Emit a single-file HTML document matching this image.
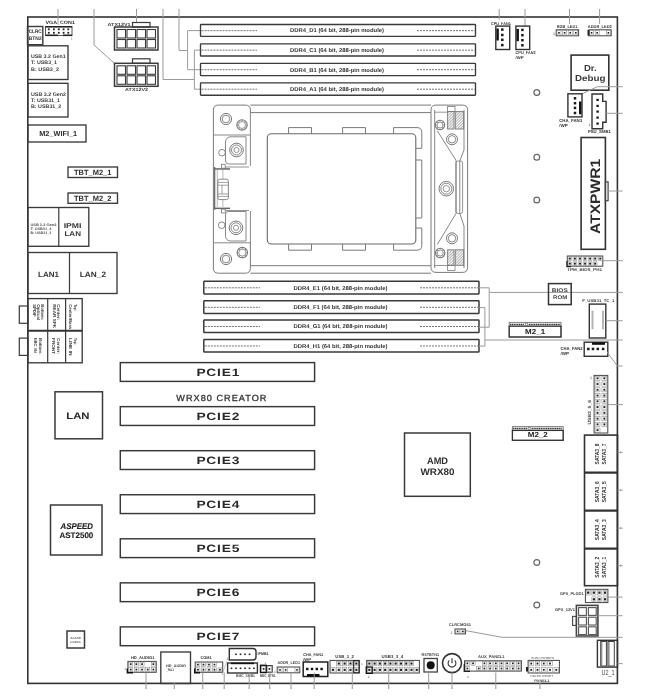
<!DOCTYPE html>
<html><head><meta charset="utf-8"><style>
html,body{margin:0;padding:0;background:#fff;}
svg{display:block;filter:blur(0.3px);text-rendering:geometricPrecision;}
</style></head><body>
<svg width="648" height="700" viewBox="0 0 648 700" font-family="Liberation Sans, sans-serif">
<defs><pattern id="hatch" width="2" height="2" patternUnits="userSpaceOnUse" patternTransform="rotate(45)"><line x1="0" y1="0" x2="0" y2="2" stroke="#666" stroke-width="1"/></pattern></defs>
<rect width="648" height="700" fill="#fff"/>
<rect x="27.8" y="17" width="589.6" height="666.4" fill="none" stroke="#333" stroke-width="1.6" rx="0" />
<line x1="58" y1="9" x2="58" y2="24" stroke="#9a9a9a" stroke-width="1" />
<line x1="94" y1="9" x2="94" y2="45" stroke="#9a9a9a" stroke-width="1" />
<line x1="94" y1="45" x2="114.5" y2="63.3" stroke="#9a9a9a" stroke-width="1" />
<line x1="136.5" y1="9" x2="136.5" y2="23" stroke="#9a9a9a" stroke-width="1" />
<line x1="163" y1="9" x2="163" y2="79.5" stroke="#9a9a9a" stroke-width="1" />
<line x1="163" y1="79.5" x2="194.4" y2="79.5" stroke="#9a9a9a" stroke-width="1" />
<line x1="179" y1="9" x2="179" y2="50.5" stroke="#9a9a9a" stroke-width="1" />
<line x1="179" y1="50.5" x2="187.6" y2="50.5" stroke="#9a9a9a" stroke-width="1" />
<line x1="187.6" y1="30.6" x2="187.6" y2="69.7" stroke="#9a9a9a" stroke-width="1" />
<line x1="187.6" y1="30.6" x2="200" y2="30.6" stroke="#9a9a9a" stroke-width="1" />
<line x1="187.6" y1="69.7" x2="200" y2="69.7" stroke="#9a9a9a" stroke-width="1" />
<line x1="194.4" y1="50.1" x2="194.4" y2="89.2" stroke="#9a9a9a" stroke-width="1" />
<line x1="194.4" y1="50.1" x2="200" y2="50.1" stroke="#9a9a9a" stroke-width="1" />
<line x1="194.4" y1="89.2" x2="200" y2="89.2" stroke="#9a9a9a" stroke-width="1" />
<rect x="27.5" y="26.5" width="15.299999999999997" height="18.200000000000003" fill="none" stroke="#3a3a3a" stroke-width="1.4" rx="0" />
<text x="35.2" y="33.3" font-size="5.2" font-weight="bold" fill="#2e2e2e" font-family="Liberation Sans" text-anchor="middle" textLength="13" lengthAdjust="spacingAndGlyphs">CLRC</text>
<text x="35.2" y="40" font-size="5.2" font-weight="bold" fill="#2e2e2e" font-family="Liberation Sans" text-anchor="middle" textLength="13" lengthAdjust="spacingAndGlyphs">BTN2</text>
<text x="45.4" y="23.5" font-size="4.8" font-weight="bold" fill="#2e2e2e" font-family="Liberation Sans" text-anchor="start" textLength="29.5" lengthAdjust="spacingAndGlyphs">VGA_CON1</text>
<rect x="45.5" y="26.5" width="26.5" height="9.0" fill="none" stroke="#555" stroke-width="1" rx="0" />
<line x1="45.5" y1="26.8" x2="72" y2="26.8" stroke="#222" stroke-width="1.6" />
<line x1="45.5" y1="35.3" x2="58" y2="35.3" stroke="#222" stroke-width="1.6" />
<line x1="63" y1="35.3" x2="72" y2="35.3" stroke="#222" stroke-width="1.6" />
<rect x="47.9" y="28.400000000000002" width="1.8" height="1.8" fill="#222" stroke="#3a3a3a" stroke-width="0" rx="0" />
<rect x="47.9" y="31.9" width="1.8" height="1.8" fill="#222" stroke="#3a3a3a" stroke-width="0" rx="0" />
<rect x="53.0" y="28.400000000000002" width="1.8" height="1.8" fill="#222" stroke="#3a3a3a" stroke-width="0" rx="0" />
<rect x="53.0" y="31.9" width="1.8" height="1.8" fill="#222" stroke="#3a3a3a" stroke-width="0" rx="0" />
<rect x="57.9" y="28.400000000000002" width="1.8" height="1.8" fill="#222" stroke="#3a3a3a" stroke-width="0" rx="0" />
<rect x="57.9" y="31.9" width="1.8" height="1.8" fill="#222" stroke="#3a3a3a" stroke-width="0" rx="0" />
<rect x="62.7" y="28.400000000000002" width="1.8" height="1.8" fill="#222" stroke="#3a3a3a" stroke-width="0" rx="0" />
<rect x="62.7" y="31.9" width="1.8" height="1.8" fill="#222" stroke="#3a3a3a" stroke-width="0" rx="0" />
<rect x="67.39999999999999" y="28.400000000000002" width="1.8" height="1.8" fill="#222" stroke="#3a3a3a" stroke-width="0" rx="0" />
<rect x="67.39999999999999" y="31.9" width="1.8" height="1.8" fill="#222" stroke="#3a3a3a" stroke-width="0" rx="0" />
<text x="70.8" y="40" font-size="3.5" font-weight="normal" fill="#888" font-family="Liberation Sans" text-anchor="start">1</text>
<rect x="27.8" y="45.8" width="40.2" height="33.7" fill="none" stroke="#3a3a3a" stroke-width="1.35" rx="0" />
<text x="31" y="58" font-size="5.2" font-weight="bold" fill="#3a3a3a" font-family="Liberation Sans" text-anchor="start" textLength="34.6" lengthAdjust="spacingAndGlyphs">USB 3.2 Gen1</text>
<text x="31" y="64.3" font-size="5.2" font-weight="bold" fill="#3a3a3a" font-family="Liberation Sans" text-anchor="start" textLength="26" lengthAdjust="spacingAndGlyphs">T: USB3_1</text>
<text x="31" y="70.6" font-size="5.2" font-weight="bold" fill="#3a3a3a" font-family="Liberation Sans" text-anchor="start" textLength="28" lengthAdjust="spacingAndGlyphs">B: USB3_2</text>
<rect x="27.8" y="83.3" width="40.2" height="33.7" fill="none" stroke="#3a3a3a" stroke-width="1.35" rx="0" />
<text x="31" y="95.7" font-size="5.2" font-weight="bold" fill="#3a3a3a" font-family="Liberation Sans" text-anchor="start" textLength="35" lengthAdjust="spacingAndGlyphs">USB 3.2 Gen2</text>
<text x="31" y="102" font-size="5.2" font-weight="bold" fill="#3a3a3a" font-family="Liberation Sans" text-anchor="start" textLength="29" lengthAdjust="spacingAndGlyphs">T: USB31_1</text>
<text x="31" y="108.2" font-size="5.2" font-weight="bold" fill="#3a3a3a" font-family="Liberation Sans" text-anchor="start" textLength="30.3" lengthAdjust="spacingAndGlyphs">B: USB31_2</text>
<rect x="27.8" y="125" width="58.2" height="17" fill="none" stroke="#3a3a3a" stroke-width="1.35" rx="0" />
<text x="58.2" y="136.4" font-size="7.2" font-weight="bold" fill="#2e2e2e" font-family="Liberation Sans" text-anchor="middle" textLength="38" lengthAdjust="spacingAndGlyphs">M2_WIFI_1</text>
<rect x="68" y="167" width="49.5" height="10.5" fill="none" stroke="#3a3a3a" stroke-width="1.35" rx="0" />
<text x="92.7" y="175.1" font-size="7.6" font-weight="bold" fill="#2e2e2e" font-family="Liberation Sans" text-anchor="middle" textLength="37.4" lengthAdjust="spacingAndGlyphs">TBT_M2_1</text>
<rect x="68" y="193" width="49.5" height="10.300000000000011" fill="none" stroke="#3a3a3a" stroke-width="1.35" rx="0" />
<text x="92.7" y="200.8" font-size="7.6" font-weight="bold" fill="#2e2e2e" font-family="Liberation Sans" text-anchor="middle" textLength="37.4" lengthAdjust="spacingAndGlyphs">TBT_M2_2</text>
<rect x="27.8" y="207.5" width="61.0" height="38.80000000000001" fill="none" stroke="#3a3a3a" stroke-width="1.35" rx="0" />
<line x1="58.8" y1="207.5" x2="58.8" y2="246.3" stroke="#3a3a3a" stroke-width="1.2" />
<text x="30.4" y="225.6" font-size="3.6" font-weight="bold" fill="#555" font-family="Liberation Sans" text-anchor="start" textLength="26" lengthAdjust="spacingAndGlyphs">USB 3.2 Gen2</text>
<text x="30.4" y="229.9" font-size="3.6" font-weight="bold" fill="#555" font-family="Liberation Sans" text-anchor="start" textLength="21" lengthAdjust="spacingAndGlyphs">T: USB31_4</text>
<text x="30.4" y="234.1" font-size="3.6" font-weight="bold" fill="#555" font-family="Liberation Sans" text-anchor="start" textLength="21" lengthAdjust="spacingAndGlyphs">B: USB31_3</text>
<text x="72.5" y="228.1" font-size="7" font-weight="bold" fill="#333" font-family="Liberation Sans" text-anchor="middle" textLength="17.7" lengthAdjust="spacingAndGlyphs">IPMI</text>
<text x="72.7" y="235.5" font-size="7" font-weight="bold" fill="#333" font-family="Liberation Sans" text-anchor="middle" textLength="16.5" lengthAdjust="spacingAndGlyphs">LAN</text>
<rect x="27.8" y="252.5" width="89.2" height="41.0" fill="none" stroke="#3a3a3a" stroke-width="1.35" rx="0" />
<line x1="69.5" y1="252.5" x2="69.5" y2="293.5" stroke="#3a3a3a" stroke-width="1.2" />
<text x="48.5" y="277.3" font-size="7.8" font-weight="bold" fill="#333" font-family="Liberation Sans" text-anchor="middle" textLength="21" lengthAdjust="spacingAndGlyphs">LAN1</text>
<text x="92.9" y="277.3" font-size="7.8" font-weight="bold" fill="#333" font-family="Liberation Sans" text-anchor="middle" textLength="26.2" lengthAdjust="spacingAndGlyphs">LAN_2</text>
<rect x="27.8" y="298.6" width="54.400000000000006" height="64.19999999999999" fill="none" stroke="#3a3a3a" stroke-width="1.35" rx="0" />
<line x1="27.8" y1="330.7" x2="82.2" y2="330.7" stroke="#333" stroke-width="2" />
<line x1="47.7" y1="298.6" x2="47.7" y2="362.8" stroke="#3a3a3a" stroke-width="1.2" />
<line x1="65.6" y1="298.6" x2="65.6" y2="362.8" stroke="#3a3a3a" stroke-width="1.2" />
<rect x="19.3" y="306" width="8.5" height="17.30000000000001" fill="none" stroke="#3a3a3a" stroke-width="1.2" rx="0" />
<rect x="19.3" y="338.1" width="8.5" height="17.299999999999955" fill="none" stroke="#3a3a3a" stroke-width="1.2" rx="0" />
<rect x="114.5" y="27" width="43.5" height="23" fill="none" stroke="#3a3a3a" stroke-width="1.5" rx="0" />
<rect x="132.5" y="22.5" width="17.5" height="4.5" fill="none" stroke="#3a3a3a" stroke-width="1.2" rx="0" />
<rect x="117.0" y="29.5" width="8.5" height="8.5" fill="none" stroke="#3a3a3a" stroke-width="1.1" rx="0" />
<rect x="117.0" y="39.5" width="8.5" height="8.5" fill="none" stroke="#3a3a3a" stroke-width="1.1" rx="0" />
<rect x="127.0" y="29.5" width="8.5" height="8.5" fill="none" stroke="#3a3a3a" stroke-width="1.1" rx="0" />
<rect x="127.0" y="39.5" width="8.5" height="8.5" fill="none" stroke="#3a3a3a" stroke-width="1.1" rx="0" />
<rect x="137.0" y="29.5" width="8.5" height="8.5" fill="none" stroke="#3a3a3a" stroke-width="1.1" rx="0" />
<rect x="137.0" y="39.5" width="8.5" height="8.5" fill="none" stroke="#3a3a3a" stroke-width="1.1" rx="0" />
<rect x="147.0" y="29.5" width="8.5" height="8.5" fill="none" stroke="#3a3a3a" stroke-width="1.1" rx="0" />
<rect x="147.0" y="39.5" width="8.5" height="8.5" fill="none" stroke="#3a3a3a" stroke-width="1.1" rx="0" />
<rect x="114.5" y="63.3" width="43.5" height="23.0" fill="none" stroke="#3a3a3a" stroke-width="1.5" rx="0" />
<rect x="132.5" y="58.8" width="17.5" height="4.5" fill="none" stroke="#3a3a3a" stroke-width="1.2" rx="0" />
<rect x="117.0" y="65.8" width="8.5" height="8.5" fill="none" stroke="#3a3a3a" stroke-width="1.1" rx="0" />
<rect x="117.0" y="75.8" width="8.5" height="8.5" fill="none" stroke="#3a3a3a" stroke-width="1.1" rx="0" />
<rect x="127.0" y="65.8" width="8.5" height="8.5" fill="none" stroke="#3a3a3a" stroke-width="1.1" rx="0" />
<rect x="127.0" y="75.8" width="8.5" height="8.5" fill="none" stroke="#3a3a3a" stroke-width="1.1" rx="0" />
<rect x="137.0" y="65.8" width="8.5" height="8.5" fill="none" stroke="#3a3a3a" stroke-width="1.1" rx="0" />
<rect x="137.0" y="75.8" width="8.5" height="8.5" fill="none" stroke="#3a3a3a" stroke-width="1.1" rx="0" />
<rect x="147.0" y="65.8" width="8.5" height="8.5" fill="none" stroke="#3a3a3a" stroke-width="1.1" rx="0" />
<rect x="147.0" y="75.8" width="8.5" height="8.5" fill="none" stroke="#3a3a3a" stroke-width="1.1" rx="0" />
<text x="107.6" y="25.7" font-size="4.5" font-weight="bold" fill="#444" font-family="Liberation Sans" text-anchor="start" textLength="23" lengthAdjust="spacingAndGlyphs">ATX12V1</text>
<text x="125.1" y="91" font-size="4.5" font-weight="bold" fill="#444" font-family="Liberation Sans" text-anchor="start" textLength="23" lengthAdjust="spacingAndGlyphs">ATX12V2</text>
<rect x="200.5" y="24.5" width="275.0" height="11.899999999999999" fill="none" stroke="#3a3a3a" stroke-width="1.35" rx="0.6" />
<line x1="201.5" y1="30.65" x2="257" y2="30.65" stroke="#5a5a5a" stroke-width="0.85" stroke-dasharray="2,1"/>
<line x1="417" y1="30.65" x2="474.5" y2="30.65" stroke="#5a5a5a" stroke-width="0.85" stroke-dasharray="2,1"/>
<text x="290" y="32.45" font-size="5.6" font-weight="bold" fill="#333" font-family="Liberation Sans" text-anchor="start" textLength="94" lengthAdjust="spacingAndGlyphs">DDR4_D1 (64 bit, 288-pin module)</text>
<rect x="200.5" y="43.9" width="275.0" height="12.100000000000001" fill="none" stroke="#3a3a3a" stroke-width="1.35" rx="0.6" />
<line x1="201.5" y1="50.15" x2="257" y2="50.15" stroke="#5a5a5a" stroke-width="0.85" stroke-dasharray="2,1"/>
<line x1="417" y1="50.15" x2="474.5" y2="50.15" stroke="#5a5a5a" stroke-width="0.85" stroke-dasharray="2,1"/>
<text x="290" y="51.95" font-size="5.6" font-weight="bold" fill="#333" font-family="Liberation Sans" text-anchor="start" textLength="94" lengthAdjust="spacingAndGlyphs">DDR4_C1 (64 bit, 288-pin module)</text>
<rect x="200.5" y="63.4" width="275.0" height="12.199999999999996" fill="none" stroke="#3a3a3a" stroke-width="1.35" rx="0.6" />
<line x1="201.5" y1="69.7" x2="257" y2="69.7" stroke="#5a5a5a" stroke-width="0.85" stroke-dasharray="2,1"/>
<line x1="417" y1="69.7" x2="474.5" y2="69.7" stroke="#5a5a5a" stroke-width="0.85" stroke-dasharray="2,1"/>
<text x="290" y="71.5" font-size="5.6" font-weight="bold" fill="#333" font-family="Liberation Sans" text-anchor="start" textLength="94" lengthAdjust="spacingAndGlyphs">DDR4_B1 (64 bit, 288-pin module)</text>
<rect x="200.5" y="82.8" width="275.0" height="12.400000000000006" fill="none" stroke="#3a3a3a" stroke-width="1.35" rx="0.6" />
<line x1="201.5" y1="89.2" x2="257" y2="89.2" stroke="#5a5a5a" stroke-width="0.85" stroke-dasharray="2,1"/>
<line x1="417" y1="89.2" x2="474.5" y2="89.2" stroke="#5a5a5a" stroke-width="0.85" stroke-dasharray="2,1"/>
<text x="290" y="91.0" font-size="5.6" font-weight="bold" fill="#333" font-family="Liberation Sans" text-anchor="start" textLength="94" lengthAdjust="spacingAndGlyphs">DDR4_A1 (64 bit, 288-pin module)</text>
<rect x="203.8" y="281.3" width="275.2" height="12.600000000000023" fill="none" stroke="#3a3a3a" stroke-width="1.5" rx="0.6" />
<line x1="204.8" y1="287.8" x2="260" y2="287.8" stroke="#5a5a5a" stroke-width="0.85" stroke-dasharray="2,1"/>
<line x1="420" y1="287.8" x2="478" y2="287.8" stroke="#5a5a5a" stroke-width="0.85" stroke-dasharray="2,1"/>
<text x="293.5" y="289.6" font-size="5.6" font-weight="bold" fill="#333" font-family="Liberation Sans" text-anchor="start" textLength="94" lengthAdjust="spacingAndGlyphs">DDR4_E1 (64 bit, 288-pin module)</text>
<rect x="203.8" y="300.8" width="275.2" height="12.600000000000023" fill="none" stroke="#3a3a3a" stroke-width="1.5" rx="0.6" />
<line x1="204.8" y1="307.3" x2="260" y2="307.3" stroke="#5a5a5a" stroke-width="0.85" stroke-dasharray="2,1"/>
<line x1="420" y1="307.3" x2="478" y2="307.3" stroke="#5a5a5a" stroke-width="0.85" stroke-dasharray="2,1"/>
<text x="293.5" y="309.1" font-size="5.6" font-weight="bold" fill="#333" font-family="Liberation Sans" text-anchor="start" textLength="94" lengthAdjust="spacingAndGlyphs">DDR4_F1 (64 bit, 288-pin module)</text>
<rect x="203.8" y="320" width="275.2" height="12.600000000000023" fill="none" stroke="#3a3a3a" stroke-width="1.5" rx="0.6" />
<line x1="204.8" y1="326.5" x2="260" y2="326.5" stroke="#5a5a5a" stroke-width="0.85" stroke-dasharray="2,1"/>
<line x1="420" y1="326.5" x2="478" y2="326.5" stroke="#5a5a5a" stroke-width="0.85" stroke-dasharray="2,1"/>
<text x="293.5" y="328.3" font-size="5.6" font-weight="bold" fill="#333" font-family="Liberation Sans" text-anchor="start" textLength="94" lengthAdjust="spacingAndGlyphs">DDR4_G1 (64 bit, 288-pin module)</text>
<rect x="203.8" y="339.5" width="275.2" height="12.600000000000023" fill="none" stroke="#3a3a3a" stroke-width="1.5" rx="0.6" />
<line x1="204.8" y1="346.0" x2="260" y2="346.0" stroke="#5a5a5a" stroke-width="0.85" stroke-dasharray="2,1"/>
<line x1="420" y1="346.0" x2="478" y2="346.0" stroke="#5a5a5a" stroke-width="0.85" stroke-dasharray="2,1"/>
<text x="293.5" y="347.8" font-size="5.6" font-weight="bold" fill="#333" font-family="Liberation Sans" text-anchor="start" textLength="94" lengthAdjust="spacingAndGlyphs">DDR4_H1 (64 bit, 288-pin module)</text>
<path d="M250.4,112 L250.4,110 Q250.4,105.1 245.4,105.1 L218.4,105.1 Q213.4,105.1 213.4,110.1 L213.4,268.2 Q213.4,273.2 218.4,273.2 L245.4,273.2 Q250.4,273.2 250.4,268.2 L250.4,243" fill="none" stroke="#7a7a7a" stroke-width="1"/>
<line x1="213.4" y1="135" x2="250.4" y2="135" stroke="#7a7a7a" stroke-width="0.9" />
<line x1="213.4" y1="242.8" x2="250.4" y2="242.8" stroke="#7a7a7a" stroke-width="0.9" />
<line x1="250.4" y1="112" x2="250.4" y2="166" stroke="#7a7a7a" stroke-width="0.9" />
<line x1="250.4" y1="211" x2="250.4" y2="243" stroke="#7a7a7a" stroke-width="0.9" />
<circle cx="226" cy="119" r="5.6" fill="none" stroke="#7a7a7a" stroke-width="1"/>
<circle cx="226" cy="119" r="3.8" fill="none" stroke="#7a7a7a" stroke-width="0.9"/>
<circle cx="242" cy="125" r="5.2" fill="none" stroke="#777" stroke-width="1.1"/>
<circle cx="242" cy="125" r="3.5" fill="none" stroke="#7a7a7a" stroke-width="0.8"/>
<circle cx="246.5" cy="125.0" r="0.6" fill="#7a7a7a" stroke="#3a3a3a" stroke-width="0"/>
<circle cx="245.18198051533946" cy="128.18198051533946" r="0.6" fill="#7a7a7a" stroke="#3a3a3a" stroke-width="0"/>
<circle cx="242.0" cy="129.5" r="0.6" fill="#7a7a7a" stroke="#3a3a3a" stroke-width="0"/>
<circle cx="238.81801948466054" cy="128.18198051533946" r="0.6" fill="#7a7a7a" stroke="#3a3a3a" stroke-width="0"/>
<circle cx="237.5" cy="125.0" r="0.6" fill="#7a7a7a" stroke="#3a3a3a" stroke-width="0"/>
<circle cx="238.81801948466054" cy="121.81801948466054" r="0.6" fill="#7a7a7a" stroke="#3a3a3a" stroke-width="0"/>
<circle cx="242.0" cy="120.5" r="0.6" fill="#7a7a7a" stroke="#3a3a3a" stroke-width="0"/>
<circle cx="245.18198051533946" cy="121.81801948466054" r="0.6" fill="#7a7a7a" stroke="#3a3a3a" stroke-width="0"/>
<circle cx="226" cy="259" r="5.6" fill="none" stroke="#7a7a7a" stroke-width="1"/>
<circle cx="226" cy="259" r="3.8" fill="none" stroke="#7a7a7a" stroke-width="0.9"/>
<circle cx="242.3" cy="252.6" r="5.2" fill="none" stroke="#777" stroke-width="1.1"/>
<circle cx="242.3" cy="252.6" r="3.5" fill="none" stroke="#7a7a7a" stroke-width="0.8"/>
<circle cx="246.8" cy="252.6" r="0.6" fill="#7a7a7a" stroke="#3a3a3a" stroke-width="0"/>
<circle cx="245.48198051533947" cy="255.78198051533946" r="0.6" fill="#7a7a7a" stroke="#3a3a3a" stroke-width="0"/>
<circle cx="242.3" cy="257.1" r="0.6" fill="#7a7a7a" stroke="#3a3a3a" stroke-width="0"/>
<circle cx="239.11801948466055" cy="255.78198051533946" r="0.6" fill="#7a7a7a" stroke="#3a3a3a" stroke-width="0"/>
<circle cx="237.8" cy="252.6" r="0.6" fill="#7a7a7a" stroke="#3a3a3a" stroke-width="0"/>
<circle cx="239.11801948466055" cy="249.41801948466053" r="0.6" fill="#7a7a7a" stroke="#3a3a3a" stroke-width="0"/>
<circle cx="242.3" cy="248.1" r="0.6" fill="#7a7a7a" stroke="#3a3a3a" stroke-width="0"/>
<circle cx="245.48198051533947" cy="249.41801948466053" r="0.6" fill="#7a7a7a" stroke="#3a3a3a" stroke-width="0"/>
<path d="M230,136.8 L246,136.8 L246,164 L228,164 Q225.5,164 225.5,160 L225.5,142 Q225.5,138 230,136.8 Z" fill="none" stroke="#7a7a7a" stroke-width="0.9"/>
<path d="M230,241 L246,241 L246,211.5 L228,211.5 Q225.5,211.5 225.5,215 L225.5,236 Q225.5,240 230,241 Z" fill="none" stroke="#7a7a7a" stroke-width="0.9"/>
<circle cx="236.5" cy="150" r="6.8" fill="none" stroke="#7a7a7a" stroke-width="1"/>
<circle cx="236.5" cy="150" r="5.0" fill="none" stroke="#7a7a7a" stroke-width="0.9"/>
<circle cx="236.5" cy="150" r="2.6" fill="none" stroke="#7a7a7a" stroke-width="0.8"/>
<circle cx="236" cy="227.8" r="6.8" fill="none" stroke="#7a7a7a" stroke-width="1"/>
<circle cx="236" cy="227.8" r="5.0" fill="none" stroke="#7a7a7a" stroke-width="0.9"/>
<circle cx="236" cy="227.8" r="2.6" fill="none" stroke="#7a7a7a" stroke-width="0.8"/>
<circle cx="222" cy="152.7" r="3.3" fill="none" stroke="#7a7a7a" stroke-width="0.9"/>
<circle cx="221.7" cy="225.2" r="3.3" fill="none" stroke="#7a7a7a" stroke-width="0.9"/>
<line x1="214.7" y1="167" x2="214.7" y2="209.8" stroke="#555" stroke-width="1.1" />
<rect x="214.5" y="168.2" width="15.5" height="1.5" fill="#666" stroke="#3a3a3a" stroke-width="0" rx="0" />
<rect x="214.5" y="207.6" width="15.5" height="1.5" fill="#666" stroke="#3a3a3a" stroke-width="0" rx="0" />
<rect x="221.5" y="164.3" width="3.6999999999999886" height="3.8999999999999773" fill="none" stroke="#7a7a7a" stroke-width="0.8" rx="0" />
<rect x="221.5" y="209.1" width="3.6999999999999886" height="3.9000000000000057" fill="none" stroke="#7a7a7a" stroke-width="0.8" rx="0" />
<line x1="225.2" y1="167" x2="249" y2="167" stroke="#7a7a7a" stroke-width="0.8" />
<line x1="225.2" y1="210.5" x2="249" y2="210.5" stroke="#7a7a7a" stroke-width="0.8" />
<line x1="217.3" y1="170" x2="217.3" y2="207" stroke="#999" stroke-width="0.7" />
<line x1="222.9" y1="170" x2="222.9" y2="179" stroke="#999" stroke-width="0.7" />
<line x1="222.9" y1="199.6" x2="222.9" y2="207" stroke="#999" stroke-width="0.7" />
<rect x="217.8" y="179.2" width="10.599999999999994" height="20.400000000000006" fill="none" stroke="#7a7a7a" stroke-width="0.9" rx="2" />
<line x1="217.8" y1="182.4" x2="228.4" y2="182.4" stroke="#7a7a7a" stroke-width="0.7" />
<line x1="217.8" y1="185.2" x2="228.4" y2="185.2" stroke="#7a7a7a" stroke-width="0.7" />
<line x1="217.8" y1="194" x2="228.4" y2="194" stroke="#7a7a7a" stroke-width="0.7" />
<line x1="217.8" y1="196.4" x2="228.4" y2="196.4" stroke="#7a7a7a" stroke-width="0.7" />
<line x1="222" y1="185.2" x2="222" y2="194" stroke="#7a7a7a" stroke-width="0.7" />
<line x1="250.4" y1="105.1" x2="431" y2="105.1" stroke="#7a7a7a" stroke-width="1" />
<line x1="250.4" y1="112.6" x2="431" y2="112.6" stroke="#7a7a7a" stroke-width="1" />
<line x1="250.4" y1="265.7" x2="431" y2="265.7" stroke="#7a7a7a" stroke-width="1" />
<line x1="250.4" y1="273.2" x2="431" y2="273.2" stroke="#7a7a7a" stroke-width="1" />
<rect x="267.3" y="133.7" width="148.5" height="110.30000000000001" fill="none" stroke="#6a6a6a" stroke-width="1.1" rx="4" />
<polyline points="288.6,133.7 288.6,127.6 311.5,127.6 311.5,133.7" fill="none" stroke="#7a7a7a" stroke-width="1"/>
<polyline points="288.6,244 288.6,250.2 311.5,250.2 311.5,244" fill="none" stroke="#7a7a7a" stroke-width="1"/>
<polyline points="342.6,133.7 342.6,127.6 365.5,127.6 365.5,133.7" fill="none" stroke="#7a7a7a" stroke-width="1"/>
<polyline points="342.6,244 342.6,250.2 365.5,250.2 365.5,244" fill="none" stroke="#7a7a7a" stroke-width="1"/>
<path d="M393.6,133.7 L393.6,127.6 L417,127.6 Q421.8,127.6 421.8,132.4 L421.8,148.3 L415.8,148.3" fill="none" stroke="#7a7a7a" stroke-width="1"/>
<path d="M393.6,244 L393.6,250.2 L417,250.2 Q421.8,250.2 421.8,245.4 L421.8,228 L415.8,228" fill="none" stroke="#7a7a7a" stroke-width="1"/>
<polyline points="415.8,160 421.8,160 421.8,218 415.8,218" fill="none" stroke="#7a7a7a" stroke-width="1"/>
<path d="M431,110 Q431,105.1 436,105.1 L462.6,105.1 Q467.6,105.1 467.6,110.1 L467.6,267.4 Q467.6,272.4 462.6,272.4 L436,272.4 Q431,272.4 431,267.4 Z" fill="none" stroke="#7a7a7a" stroke-width="1"/>
<line x1="434.7" y1="110" x2="434.7" y2="268" stroke="#7a7a7a" stroke-width="0.9" />
<polyline points="437.3,130.8 456,160.4 456,213.5 437.3,244.5" fill="none" stroke="#7a7a7a" stroke-width="0.9"/>
<polyline points="464,110 464,150 459.8,161 459.8,213.5 464,226 464,268" fill="none" stroke="#7a7a7a" stroke-width="0.9"/>
<rect x="456" y="161" width="6.600000000000023" height="52.5" fill="none" stroke="#7a7a7a" stroke-width="0.8" rx="2" />
<line x1="434" y1="112.2" x2="447" y2="112.2" stroke="#7a7a7a" stroke-width="0.8" />
<line x1="434" y1="265.5" x2="447" y2="265.5" stroke="#7a7a7a" stroke-width="0.8" />
<rect x="447.6" y="106.5" width="7.399999999999977" height="5.099999999999994" fill="none" stroke="#7a7a7a" stroke-width="0.8" rx="0" />
<rect x="447.6" y="265.3" width="7.399999999999977" height="5.199999999999989" fill="none" stroke="#7a7a7a" stroke-width="0.8" rx="0" />
<circle cx="440" cy="125" r="4.7" fill="none" stroke="#777" stroke-width="1.1"/>
<circle cx="440" cy="125" r="3" fill="none" stroke="#7a7a7a" stroke-width="0.8"/>
<circle cx="444.0" cy="125.0" r="0.6" fill="#7a7a7a" stroke="#3a3a3a" stroke-width="0"/>
<circle cx="442.8284271247462" cy="127.82842712474618" r="0.6" fill="#7a7a7a" stroke="#3a3a3a" stroke-width="0"/>
<circle cx="440.0" cy="129.0" r="0.6" fill="#7a7a7a" stroke="#3a3a3a" stroke-width="0"/>
<circle cx="437.1715728752538" cy="127.82842712474618" r="0.6" fill="#7a7a7a" stroke="#3a3a3a" stroke-width="0"/>
<circle cx="436.0" cy="125.0" r="0.6" fill="#7a7a7a" stroke="#3a3a3a" stroke-width="0"/>
<circle cx="437.1715728752538" cy="122.17157287525382" r="0.6" fill="#7a7a7a" stroke="#3a3a3a" stroke-width="0"/>
<circle cx="440.0" cy="121.0" r="0.6" fill="#7a7a7a" stroke="#3a3a3a" stroke-width="0"/>
<circle cx="442.8284271247462" cy="122.17157287525382" r="0.6" fill="#7a7a7a" stroke="#3a3a3a" stroke-width="0"/>
<circle cx="440.2" cy="253" r="4.7" fill="none" stroke="#777" stroke-width="1.1"/>
<circle cx="440.2" cy="253" r="3" fill="none" stroke="#7a7a7a" stroke-width="0.8"/>
<circle cx="444.2" cy="253.0" r="0.6" fill="#7a7a7a" stroke="#3a3a3a" stroke-width="0"/>
<circle cx="443.0284271247462" cy="255.82842712474618" r="0.6" fill="#7a7a7a" stroke="#3a3a3a" stroke-width="0"/>
<circle cx="440.2" cy="257.0" r="0.6" fill="#7a7a7a" stroke="#3a3a3a" stroke-width="0"/>
<circle cx="437.3715728752538" cy="255.82842712474618" r="0.6" fill="#7a7a7a" stroke="#3a3a3a" stroke-width="0"/>
<circle cx="436.2" cy="253.0" r="0.6" fill="#7a7a7a" stroke="#3a3a3a" stroke-width="0"/>
<circle cx="437.3715728752538" cy="250.17157287525382" r="0.6" fill="#7a7a7a" stroke="#3a3a3a" stroke-width="0"/>
<circle cx="440.2" cy="249.0" r="0.6" fill="#7a7a7a" stroke="#3a3a3a" stroke-width="0"/>
<circle cx="443.0284271247462" cy="250.17157287525382" r="0.6" fill="#7a7a7a" stroke="#3a3a3a" stroke-width="0"/>
<circle cx="452" cy="139.3" r="5.5" fill="none" stroke="#7a7a7a" stroke-width="1"/>
<circle cx="452" cy="139.3" r="3.7" fill="none" stroke="#7a7a7a" stroke-width="0.9"/>
<circle cx="452" cy="238.3" r="5.5" fill="none" stroke="#7a7a7a" stroke-width="1"/>
<circle cx="452" cy="238.3" r="3.7" fill="none" stroke="#7a7a7a" stroke-width="0.9"/>
<circle cx="446.3" cy="188.7" r="7.3" fill="none" stroke="#7a7a7a" stroke-width="1"/>
<circle cx="446.3" cy="188.7" r="5.5" fill="none" stroke="#7a7a7a" stroke-width="0.9"/>
<circle cx="446.3" cy="188.7" r="3.2" fill="none" stroke="#7a7a7a" stroke-width="0.8"/>
<rect x="447.6" y="111.6" width="6.399999999999977" height="17.400000000000006" fill="url(#hatch)" stroke="#7a7a7a" stroke-width="0.9" rx="0" />
<rect x="455.3" y="111.6" width="8.399999999999977" height="17.400000000000006" fill="url(#hatch)" stroke="#7a7a7a" stroke-width="0.9" rx="0" />
<rect x="447.6" y="249.8" width="6.399999999999977" height="15.5" fill="url(#hatch)" stroke="#7a7a7a" stroke-width="0.9" rx="0" />
<rect x="455.3" y="249.8" width="8.399999999999977" height="15.5" fill="url(#hatch)" stroke="#7a7a7a" stroke-width="0.9" rx="0" />
<rect x="120.3" y="362.6" width="194.3" height="18.80000000000001" fill="none" stroke="#383838" stroke-width="1.45" rx="0" />
<text x="218.3" y="375.70000000000005" font-size="10.6" font-weight="bold" fill="#2a2a2a" font-family="Liberation Sans" text-anchor="middle" textLength="43.8" lengthAdjust="spacingAndGlyphs" letter-spacing="0.6">PCIE1</text>
<rect x="120.3" y="406.65" width="194.3" height="18.80000000000001" fill="none" stroke="#383838" stroke-width="1.45" rx="0" />
<text x="218.3" y="419.75" font-size="10.6" font-weight="bold" fill="#2a2a2a" font-family="Liberation Sans" text-anchor="middle" textLength="43.8" lengthAdjust="spacingAndGlyphs" letter-spacing="0.6">PCIE2</text>
<rect x="120.3" y="450.7" width="194.3" height="18.80000000000001" fill="none" stroke="#383838" stroke-width="1.45" rx="0" />
<text x="218.3" y="463.8" font-size="10.6" font-weight="bold" fill="#2a2a2a" font-family="Liberation Sans" text-anchor="middle" textLength="43.8" lengthAdjust="spacingAndGlyphs" letter-spacing="0.6">PCIE3</text>
<rect x="120.3" y="494.75" width="194.3" height="18.799999999999955" fill="none" stroke="#383838" stroke-width="1.45" rx="0" />
<text x="218.3" y="507.85" font-size="10.6" font-weight="bold" fill="#2a2a2a" font-family="Liberation Sans" text-anchor="middle" textLength="43.8" lengthAdjust="spacingAndGlyphs" letter-spacing="0.6">PCIE4</text>
<rect x="120.3" y="538.8" width="194.3" height="18.799999999999955" fill="none" stroke="#383838" stroke-width="1.45" rx="0" />
<text x="218.3" y="551.9" font-size="10.6" font-weight="bold" fill="#2a2a2a" font-family="Liberation Sans" text-anchor="middle" textLength="43.8" lengthAdjust="spacingAndGlyphs" letter-spacing="0.6">PCIE5</text>
<rect x="120.3" y="582.85" width="194.3" height="18.799999999999955" fill="none" stroke="#383838" stroke-width="1.45" rx="0" />
<text x="218.3" y="595.95" font-size="10.6" font-weight="bold" fill="#2a2a2a" font-family="Liberation Sans" text-anchor="middle" textLength="43.8" lengthAdjust="spacingAndGlyphs" letter-spacing="0.6">PCIE6</text>
<rect x="120.3" y="626.9" width="194.3" height="18.799999999999955" fill="none" stroke="#383838" stroke-width="1.45" rx="0" />
<text x="218.3" y="640.0" font-size="10.6" font-weight="bold" fill="#2a2a2a" font-family="Liberation Sans" text-anchor="middle" textLength="43.8" lengthAdjust="spacingAndGlyphs" letter-spacing="0.6">PCIE7</text>
<text x="221.9" y="401" font-size="8.8" font-weight="normal" fill="#333" stroke="#333" stroke-width="0.3" text-anchor="middle" textLength="91.2" lengthAdjust="spacingAndGlyphs" letter-spacing="1" font-family="Liberation Sans">WRX80 CREATOR</text>
<rect x="55" y="391.8" width="47.5" height="47.0" fill="none" stroke="#3a3a3a" stroke-width="1.5" rx="0" />
<text x="77.9" y="419.3" font-size="9.6" font-weight="bold" fill="#2a2a2a" font-family="Liberation Sans" text-anchor="middle" textLength="23.3" lengthAdjust="spacingAndGlyphs">LAN</text>
<rect x="50.5" y="505" width="51.5" height="50" fill="none" stroke="#3a3a3a" stroke-width="1.5" rx="0" />
<text x="76.7" y="529.3" font-size="8.3" font-weight="bold" fill="#222" font-family="Liberation Sans" text-anchor="middle" stroke="#222" stroke-width="0.15" textLength="32.5" lengthAdjust="spacingAndGlyphs" font-style="italic">ASPEED</text>
<text x="76.4" y="538.3" font-size="8.1" font-weight="bold" fill="#222" font-family="Liberation Sans" text-anchor="middle" stroke="#222" stroke-width="0.1" textLength="33.8" lengthAdjust="spacingAndGlyphs">AST2500</text>
<rect x="67" y="631" width="17.5" height="17" fill="none" stroke="#3a3a3a" stroke-width="1.5" rx="0" />
<text x="75.7" y="639" font-size="2.8" font-weight="normal" fill="#2e2e2e" font-family="Liberation Sans" text-anchor="middle" textLength="11" lengthAdjust="spacingAndGlyphs">ASEMI</text>
<text x="75.7" y="642.5" font-size="2.8" font-weight="normal" fill="#2e2e2e" font-family="Liberation Sans" text-anchor="middle" textLength="11" lengthAdjust="spacingAndGlyphs">CODEC</text>
<rect x="404.5" y="433" width="65.80000000000001" height="63.30000000000001" fill="none" stroke="#3a3a3a" stroke-width="1.5" rx="0" />
<text x="437.5" y="463.5" font-size="9.5" font-weight="bold" fill="#2e2e2e" font-family="Liberation Sans" text-anchor="middle" textLength="21" lengthAdjust="spacingAndGlyphs">AMD</text>
<text x="437.5" y="474.5" font-size="9.5" font-weight="bold" fill="#2e2e2e" font-family="Liberation Sans" text-anchor="middle" textLength="34" lengthAdjust="spacingAndGlyphs">WRX80</text>
<rect x="509.2" y="322.40000000000003" width="51.80000000000001" height="14.599999999999966" fill="none" stroke="#777" stroke-width="0.9" rx="0" />
<rect x="509.2" y="326.2" width="51.80000000000001" height="10.800000000000011" fill="none" stroke="#333" stroke-width="1.3" rx="0" />
<line x1="510.0" y1="324.40000000000003" x2="524.222" y2="324.40000000000003" stroke="#333" stroke-width="1.5" stroke-dasharray="1.3,0.5"/>
<line x1="528.722" y1="324.40000000000003" x2="560.2" y2="324.40000000000003" stroke="#333" stroke-width="1.5" stroke-dasharray="1.3,0.5"/>
<rect x="525.222" y="323.1" width="2.5" height="2.3000000000000114" fill="none" stroke="#666" stroke-width="0.6" rx="0" />
<text x="535.1" y="333.7" font-size="7.2" font-weight="bold" fill="#222" font-family="Liberation Sans" text-anchor="middle" textLength="20" lengthAdjust="spacingAndGlyphs">M2_1</text>
<rect x="512.4" y="426.6" width="50.80000000000007" height="13.699999999999989" fill="none" stroke="#777" stroke-width="0.9" rx="0" />
<rect x="512.4" y="430.4" width="50.80000000000007" height="9.900000000000034" fill="none" stroke="#333" stroke-width="1.3" rx="0" />
<line x1="513.1999999999999" y1="428.6" x2="527.132" y2="428.6" stroke="#333" stroke-width="1.5" stroke-dasharray="1.3,0.5"/>
<line x1="531.632" y1="428.6" x2="562.4000000000001" y2="428.6" stroke="#333" stroke-width="1.5" stroke-dasharray="1.3,0.5"/>
<rect x="528.132" y="427.3" width="2.5" height="2.3000000000000114" fill="none" stroke="#666" stroke-width="0.6" rx="0" />
<text x="537.8" y="437.0" font-size="7.2" font-weight="bold" fill="#222" font-family="Liberation Sans" text-anchor="middle" textLength="20" lengthAdjust="spacingAndGlyphs">M2_2</text>
<line x1="499.2" y1="9" x2="499.2" y2="19.5" stroke="#9a9a9a" stroke-width="1" />
<line x1="525" y1="9" x2="525" y2="26.4" stroke="#9a9a9a" stroke-width="1" />
<line x1="569.5" y1="9" x2="569.5" y2="24" stroke="#9a9a9a" stroke-width="1" />
<line x1="599.6" y1="9" x2="599.6" y2="24" stroke="#9a9a9a" stroke-width="1" />
<text x="490.9" y="24.9" font-size="4.2" font-weight="bold" fill="#333" font-family="Liberation Sans" text-anchor="start" textLength="19.9" lengthAdjust="spacingAndGlyphs">CPU_FAN1</text>
<rect x="495.8" y="26.1" width="13.899999999999977" height="23.4" fill="none" stroke="#333" stroke-width="1.4" rx="0" />
<rect x="496.40000000000003" y="28.5" width="2.4" height="12.0" fill="#111" stroke="#3a3a3a" stroke-width="0" rx="0" />
<rect x="501.05" y="28.35" width="2.5" height="2.5" fill="#1a1a1a" stroke="#3a3a3a" stroke-width="0" rx="0" />
<rect x="501.05" y="33.75" width="2.5" height="2.5" fill="#1a1a1a" stroke="#3a3a3a" stroke-width="0" rx="0" />
<rect x="501.05" y="38.55" width="2.5" height="2.5" fill="#1a1a1a" stroke="#3a3a3a" stroke-width="0" rx="0" />
<rect x="501.05" y="43.85" width="2.5" height="2.5" fill="#1a1a1a" stroke="#3a3a3a" stroke-width="0" rx="0" />
<rect x="515.9" y="26.1" width="13.800000000000068" height="23.4" fill="none" stroke="#333" stroke-width="1.4" rx="0" />
<rect x="516.5" y="28.9" width="2.4" height="12.300000000000004" fill="#111" stroke="#3a3a3a" stroke-width="0" rx="0" />
<rect x="521.15" y="28.65" width="2.5" height="2.5" fill="#1a1a1a" stroke="#3a3a3a" stroke-width="0" rx="0" />
<rect x="521.15" y="33.95" width="2.5" height="2.5" fill="#1a1a1a" stroke="#3a3a3a" stroke-width="0" rx="0" />
<rect x="521.15" y="38.95" width="2.5" height="2.5" fill="#1a1a1a" stroke="#3a3a3a" stroke-width="0" rx="0" />
<rect x="521.15" y="44.05" width="2.5" height="2.5" fill="#1a1a1a" stroke="#3a3a3a" stroke-width="0" rx="0" />
<text x="515.6" y="54.2" font-size="4.2" font-weight="bold" fill="#333" font-family="Liberation Sans" text-anchor="start" textLength="20" lengthAdjust="spacingAndGlyphs">CPU_FAN2</text>
<text x="515.6" y="59" font-size="4.2" font-weight="bold" fill="#333" font-family="Liberation Sans" text-anchor="start" textLength="8" lengthAdjust="spacingAndGlyphs">/WP</text>
<text x="556.8" y="27.5" font-size="4.2" font-weight="bold" fill="#333" font-family="Liberation Sans" text-anchor="start" textLength="20.5" lengthAdjust="spacingAndGlyphs">RGB_LED1</text>
<rect x="556.2" y="29.8" width="22.399999999999977" height="5.9999999999999964" fill="none" stroke="#444" stroke-width="1" rx="0" />
<rect x="556.98" y="30.64" width="4.03" height="4.32" fill="none" stroke="#888" stroke-width="0.55" rx="0" />
<rect x="558.2" y="32.0" width="1.6" height="1.6" fill="#1e1e1e" stroke="#3a3a3a" stroke-width="0" rx="0" />
<rect x="562.58" y="30.64" width="4.03" height="4.32" fill="none" stroke="#888" stroke-width="0.55" rx="0" />
<rect x="563.8" y="32.0" width="1.6" height="1.6" fill="#1e1e1e" stroke="#3a3a3a" stroke-width="0" rx="0" />
<rect x="568.18" y="30.64" width="4.03" height="4.32" fill="none" stroke="#888" stroke-width="0.55" rx="0" />
<rect x="569.4" y="32.0" width="1.6" height="1.6" fill="#1e1e1e" stroke="#3a3a3a" stroke-width="0" rx="0" />
<rect x="573.78" y="30.64" width="4.03" height="4.32" fill="none" stroke="#888" stroke-width="0.55" rx="0" />
<rect x="575.0" y="32.0" width="1.6" height="1.6" fill="#1e1e1e" stroke="#3a3a3a" stroke-width="0" rx="0" />
<text x="553" y="35.3" font-size="3.6" font-weight="normal" fill="#333" font-family="Liberation Sans" text-anchor="start">1</text>
<text x="587.8" y="27.5" font-size="4.2" font-weight="bold" fill="#333" font-family="Liberation Sans" text-anchor="start" textLength="24" lengthAdjust="spacingAndGlyphs">ADDR_LED2</text>
<rect x="588.8" y="29.8" width="22.40000000000009" height="5.9999999999999964" fill="none" stroke="#444" stroke-width="1" rx="0" />
<rect x="589.58" y="30.64" width="4.03" height="4.32" fill="none" stroke="#888" stroke-width="0.55" rx="0" />
<rect x="590.8" y="32.0" width="1.6" height="1.6" fill="#1e1e1e" stroke="#3a3a3a" stroke-width="0" rx="0" />
<rect x="595.18" y="30.64" width="4.03" height="4.32" fill="none" stroke="#888" stroke-width="0.55" rx="0" />
<rect x="596.4" y="32.0" width="1.6" height="1.6" fill="#1e1e1e" stroke="#3a3a3a" stroke-width="0" rx="0" />
<rect x="606.38" y="30.64" width="4.03" height="4.32" fill="none" stroke="#888" stroke-width="0.55" rx="0" />
<rect x="607.6" y="32.0" width="1.6" height="1.6" fill="#1e1e1e" stroke="#3a3a3a" stroke-width="0" rx="0" />
<rect x="587.5" y="30" width="2" height="5.6" fill="#222" stroke="#3a3a3a" stroke-width="0" rx="0" />
<rect x="571.1" y="55.1" width="37.69999999999993" height="35.1" fill="none" stroke="#333" stroke-width="1.6" rx="0" />
<text x="590.3" y="70.9" font-size="8.6" font-weight="bold" fill="#3a3a3a" font-family="Liberation Sans" text-anchor="middle" textLength="12.8" lengthAdjust="spacingAndGlyphs">Dr.</text>
<text x="590.2" y="81" font-size="8.6" font-weight="bold" fill="#3a3a3a" font-family="Liberation Sans" text-anchor="middle" textLength="30.5" lengthAdjust="spacingAndGlyphs">Debug</text>
<polyline points="622.6,86.7 597.5,86.7 582,93.8" fill="none" stroke="#9a9a9a" stroke-width="1"/>
<rect x="567.9" y="93.8" width="14.100000000000023" height="23.10000000000001" fill="none" stroke="#333" stroke-width="1.4" rx="0" />
<rect x="579" y="101.5" width="2.4" height="12.799999999999997" fill="#111" stroke="#3a3a3a" stroke-width="0" rx="0" />
<rect x="573.75" y="97.05" width="2.5" height="2.5" fill="#1a1a1a" stroke="#3a3a3a" stroke-width="0" rx="0" />
<rect x="573.75" y="101.95" width="2.5" height="2.5" fill="#1a1a1a" stroke="#3a3a3a" stroke-width="0" rx="0" />
<rect x="573.75" y="106.65" width="2.5" height="2.5" fill="#1a1a1a" stroke="#3a3a3a" stroke-width="0" rx="0" />
<rect x="573.75" y="111.75" width="2.5" height="2.5" fill="#1a1a1a" stroke="#3a3a3a" stroke-width="0" rx="0" />
<text x="559.2" y="122.4" font-size="4.4" font-weight="bold" fill="#333" font-family="Liberation Sans" text-anchor="start" textLength="23" lengthAdjust="spacingAndGlyphs">CHA_FAN3</text>
<text x="559.2" y="126.8" font-size="4.4" font-weight="bold" fill="#333" font-family="Liberation Sans" text-anchor="start" textLength="8.5" lengthAdjust="spacingAndGlyphs">/WP</text>
<polygon points="592,94 602.7,94 602.7,101.4 606.1,101.4 606.1,122.3 602.7,122.3 602.7,128.7 592,128.7" fill="none" stroke="#333" stroke-width="1.4"/>
<rect x="596.4" y="98.80000000000001" width="2.4" height="2.2" fill="#1a1a1a" stroke="#3a3a3a" stroke-width="0" rx="0" />
<rect x="596.4" y="104.80000000000001" width="2.4" height="2.2" fill="#1a1a1a" stroke="#3a3a3a" stroke-width="0" rx="0" />
<rect x="596.4" y="110.5" width="2.4" height="2.2" fill="#1a1a1a" stroke="#3a3a3a" stroke-width="0" rx="0" />
<rect x="596.4" y="116.5" width="2.4" height="2.2" fill="#1a1a1a" stroke="#3a3a3a" stroke-width="0" rx="0" />
<rect x="596.4" y="122.5" width="2.4" height="2.2" fill="#1a1a1a" stroke="#3a3a3a" stroke-width="0" rx="0" />
<text x="588.6" y="125.8" font-size="3.6" font-weight="normal" fill="#333" font-family="Liberation Sans" text-anchor="start">1</text>
<text x="587.9" y="133.4" font-size="4.4" font-weight="bold" fill="#333" font-family="Liberation Sans" text-anchor="start" textLength="23" lengthAdjust="spacingAndGlyphs">PSU_SMB1</text>
<line x1="606.1" y1="113.3" x2="622.6" y2="113.3" stroke="#9a9a9a" stroke-width="1" />
<rect x="581.1" y="137.5" width="24.299999999999955" height="111.80000000000001" fill="none" stroke="#333" stroke-width="1.6" rx="0" />
<rect x="605.4" y="181.9" width="2.7000000000000455" height="18.799999999999983" fill="none" stroke="#444" stroke-width="1.2" rx="0" />
<line x1="608.1" y1="191" x2="622.6" y2="191" stroke="#9a9a9a" stroke-width="1" />
<text x="599.8" y="196.4" font-size="13.8" font-weight="bold" fill="#2a2a2a" font-family="Liberation Sans" text-anchor="middle" textLength="75" lengthAdjust="spacingAndGlyphs" transform="rotate(-90 599.8 196.4)">ATXPWR1</text>
<rect x="567.3" y="256" width="35.5" height="10.199999999999989" fill="none" stroke="#444" stroke-width="1" rx="0" />
<rect x="568.01" y="256.71" width="3.65" height="3.67" fill="none" stroke="#888" stroke-width="0.55" rx="0" />
<rect x="568.89" y="257.6" width="1.9" height="1.9" fill="#1e1e1e" stroke="#3a3a3a" stroke-width="0" rx="0" />
<rect x="568.01" y="261.81" width="3.65" height="3.67" fill="none" stroke="#888" stroke-width="0.55" rx="0" />
<rect x="568.89" y="262.7" width="1.9" height="1.9" fill="#1e1e1e" stroke="#3a3a3a" stroke-width="0" rx="0" />
<rect x="573.08" y="256.71" width="3.65" height="3.67" fill="none" stroke="#888" stroke-width="0.55" rx="0" />
<rect x="573.96" y="257.6" width="1.9" height="1.9" fill="#1e1e1e" stroke="#3a3a3a" stroke-width="0" rx="0" />
<rect x="573.08" y="261.81" width="3.65" height="3.67" fill="none" stroke="#888" stroke-width="0.55" rx="0" />
<rect x="573.96" y="262.7" width="1.9" height="1.9" fill="#1e1e1e" stroke="#3a3a3a" stroke-width="0" rx="0" />
<rect x="578.15" y="256.71" width="3.65" height="3.67" fill="none" stroke="#888" stroke-width="0.55" rx="0" />
<rect x="579.03" y="257.6" width="1.9" height="1.9" fill="#1e1e1e" stroke="#3a3a3a" stroke-width="0" rx="0" />
<rect x="578.15" y="261.81" width="3.65" height="3.67" fill="none" stroke="#888" stroke-width="0.55" rx="0" />
<rect x="579.03" y="262.7" width="1.9" height="1.9" fill="#1e1e1e" stroke="#3a3a3a" stroke-width="0" rx="0" />
<rect x="583.22" y="256.71" width="3.65" height="3.67" fill="none" stroke="#888" stroke-width="0.55" rx="0" />
<rect x="584.1" y="257.6" width="1.9" height="1.9" fill="#1e1e1e" stroke="#3a3a3a" stroke-width="0" rx="0" />
<rect x="583.22" y="261.81" width="3.65" height="3.67" fill="none" stroke="#888" stroke-width="0.55" rx="0" />
<rect x="584.1" y="262.7" width="1.9" height="1.9" fill="#1e1e1e" stroke="#3a3a3a" stroke-width="0" rx="0" />
<rect x="588.3" y="256.71" width="3.65" height="3.67" fill="none" stroke="#888" stroke-width="0.55" rx="0" />
<rect x="589.17" y="257.6" width="1.9" height="1.9" fill="#1e1e1e" stroke="#3a3a3a" stroke-width="0" rx="0" />
<rect x="588.3" y="261.81" width="3.65" height="3.67" fill="none" stroke="#888" stroke-width="0.55" rx="0" />
<rect x="589.17" y="262.7" width="1.9" height="1.9" fill="#1e1e1e" stroke="#3a3a3a" stroke-width="0" rx="0" />
<rect x="593.37" y="256.71" width="3.65" height="3.67" fill="none" stroke="#888" stroke-width="0.55" rx="0" />
<rect x="594.24" y="257.6" width="1.9" height="1.9" fill="#1e1e1e" stroke="#3a3a3a" stroke-width="0" rx="0" />
<rect x="593.37" y="261.81" width="3.65" height="3.67" fill="none" stroke="#888" stroke-width="0.55" rx="0" />
<rect x="594.24" y="262.7" width="1.9" height="1.9" fill="#1e1e1e" stroke="#3a3a3a" stroke-width="0" rx="0" />
<rect x="598.44" y="256.71" width="3.65" height="3.67" fill="none" stroke="#888" stroke-width="0.55" rx="0" />
<rect x="599.31" y="257.6" width="1.9" height="1.9" fill="#1e1e1e" stroke="#3a3a3a" stroke-width="0" rx="0" />
<polyline points="566.9,261 566.9,266.6 571,266.6" fill="none" stroke="#222" stroke-width="1.2"/>
<text x="567.3" y="270.9" font-size="4.2" font-weight="bold" fill="#444" font-family="Liberation Sans" text-anchor="start" textLength="34.7" lengthAdjust="spacingAndGlyphs">TPM_BIOS_PH1</text>
<line x1="602.6" y1="260.7" x2="622.6" y2="260.7" stroke="#9a9a9a" stroke-width="1" />
<circle cx="536.8" cy="92.5" r="2.9" fill="none" stroke="#666" stroke-width="1.2"/>
<circle cx="536.8" cy="157.3" r="2.9" fill="none" stroke="#666" stroke-width="1.2"/>
<circle cx="536.8" cy="200" r="2.9" fill="none" stroke="#666" stroke-width="1.2"/>
<circle cx="536.8" cy="562.5" r="2.9" fill="none" stroke="#666" stroke-width="1.2"/>
<circle cx="536.8" cy="605" r="2.9" fill="none" stroke="#666" stroke-width="1.2"/>
<line x1="478.8" y1="287.8" x2="489.2" y2="287.8" stroke="#9a9a9a" stroke-width="1" />
<line x1="489.2" y1="287.8" x2="489.2" y2="327.2" stroke="#9a9a9a" stroke-width="1" />
<line x1="478.8" y1="327.2" x2="489.2" y2="327.2" stroke="#9a9a9a" stroke-width="1" />
<line x1="489.2" y1="292.4" x2="622.6" y2="292.4" stroke="#9a9a9a" stroke-width="1" />
<line x1="478.8" y1="307.6" x2="484.9" y2="307.6" stroke="#9a9a9a" stroke-width="1" />
<line x1="484.9" y1="307.6" x2="484.9" y2="346.1" stroke="#9a9a9a" stroke-width="1" />
<line x1="478.8" y1="346.1" x2="484.9" y2="346.1" stroke="#9a9a9a" stroke-width="1" />
<line x1="484.9" y1="340" x2="622.6" y2="340" stroke="#9a9a9a" stroke-width="1" />
<rect x="548.5" y="283.6" width="22.700000000000045" height="21.0" fill="none" stroke="#333" stroke-width="1.5" rx="0" />
<text x="559.8" y="291.6" font-size="5.3" font-weight="bold" fill="#444" font-family="Liberation Sans" text-anchor="middle" textLength="16" lengthAdjust="spacingAndGlyphs">BIOS</text>
<text x="560.1" y="298.8" font-size="5.3" font-weight="bold" fill="#444" font-family="Liberation Sans" text-anchor="middle" textLength="14.2" lengthAdjust="spacingAndGlyphs">ROM</text>
<text x="582.3" y="301.7" font-size="4" font-weight="bold" fill="#444" font-family="Liberation Sans" text-anchor="start" textLength="32" lengthAdjust="spacingAndGlyphs">F_USB31_TC_1</text>
<rect x="589.3" y="304.1" width="16.5" height="33.89999999999998" fill="none" stroke="#333" stroke-width="1.4" rx="0" />
<rect x="591.5" y="310.7" width="2" height="18.5" fill="#c4c4c4" stroke="#3a3a3a" stroke-width="0" rx="0" />
<rect x="602" y="310.7" width="2" height="18.5" fill="#c4c4c4" stroke="#3a3a3a" stroke-width="0" rx="0" />
<rect x="591.8" y="311.5" width="1.4" height="0.8" fill="#999" stroke="#3a3a3a" stroke-width="0" rx="0" />
<rect x="602.3" y="311.5" width="1.4" height="0.8" fill="#999" stroke="#3a3a3a" stroke-width="0" rx="0" />
<rect x="591.8" y="313.3" width="1.4" height="0.8" fill="#999" stroke="#3a3a3a" stroke-width="0" rx="0" />
<rect x="602.3" y="313.3" width="1.4" height="0.8" fill="#999" stroke="#3a3a3a" stroke-width="0" rx="0" />
<rect x="591.8" y="315.1" width="1.4" height="0.8" fill="#999" stroke="#3a3a3a" stroke-width="0" rx="0" />
<rect x="602.3" y="315.1" width="1.4" height="0.8" fill="#999" stroke="#3a3a3a" stroke-width="0" rx="0" />
<rect x="591.8" y="316.9" width="1.4" height="0.8" fill="#999" stroke="#3a3a3a" stroke-width="0" rx="0" />
<rect x="602.3" y="316.9" width="1.4" height="0.8" fill="#999" stroke="#3a3a3a" stroke-width="0" rx="0" />
<rect x="591.8" y="318.7" width="1.4" height="0.8" fill="#999" stroke="#3a3a3a" stroke-width="0" rx="0" />
<rect x="602.3" y="318.7" width="1.4" height="0.8" fill="#999" stroke="#3a3a3a" stroke-width="0" rx="0" />
<rect x="591.8" y="320.5" width="1.4" height="0.8" fill="#999" stroke="#3a3a3a" stroke-width="0" rx="0" />
<rect x="602.3" y="320.5" width="1.4" height="0.8" fill="#999" stroke="#3a3a3a" stroke-width="0" rx="0" />
<rect x="591.8" y="322.3" width="1.4" height="0.8" fill="#999" stroke="#3a3a3a" stroke-width="0" rx="0" />
<rect x="602.3" y="322.3" width="1.4" height="0.8" fill="#999" stroke="#3a3a3a" stroke-width="0" rx="0" />
<rect x="591.8" y="324.1" width="1.4" height="0.8" fill="#999" stroke="#3a3a3a" stroke-width="0" rx="0" />
<rect x="602.3" y="324.1" width="1.4" height="0.8" fill="#999" stroke="#3a3a3a" stroke-width="0" rx="0" />
<rect x="591.8" y="325.9" width="1.4" height="0.8" fill="#999" stroke="#3a3a3a" stroke-width="0" rx="0" />
<rect x="602.3" y="325.9" width="1.4" height="0.8" fill="#999" stroke="#3a3a3a" stroke-width="0" rx="0" />
<rect x="591.8" y="327.7" width="1.4" height="0.8" fill="#999" stroke="#3a3a3a" stroke-width="0" rx="0" />
<rect x="602.3" y="327.7" width="1.4" height="0.8" fill="#999" stroke="#3a3a3a" stroke-width="0" rx="0" />
<line x1="605.8" y1="320.7" x2="622.6" y2="320.7" stroke="#9a9a9a" stroke-width="1" />
<rect x="584.2" y="342.2" width="23.59999999999991" height="14.100000000000023" fill="#fff" stroke="#333" stroke-width="1.4" rx="0" />
<rect x="592" y="342.2" width="13" height="2.6" fill="#111" stroke="#3a3a3a" stroke-width="0" rx="0" />
<rect x="587.05" y="347.7" width="2.5" height="2.5" fill="#1a1a1a" stroke="#3a3a3a" stroke-width="0" rx="0" />
<rect x="591.75" y="347.7" width="2.5" height="2.5" fill="#1a1a1a" stroke="#3a3a3a" stroke-width="0" rx="0" />
<rect x="596.55" y="347.7" width="2.5" height="2.5" fill="#1a1a1a" stroke="#3a3a3a" stroke-width="0" rx="0" />
<rect x="601.85" y="347.7" width="2.5" height="2.5" fill="#1a1a1a" stroke="#3a3a3a" stroke-width="0" rx="0" />
<text x="560.6" y="350.3" font-size="4.4" font-weight="bold" fill="#333" font-family="Liberation Sans" text-anchor="start" textLength="22" lengthAdjust="spacingAndGlyphs">CHA_FAN2</text>
<text x="560.6" y="354.6" font-size="4.4" font-weight="bold" fill="#333" font-family="Liberation Sans" text-anchor="start" textLength="8.5" lengthAdjust="spacingAndGlyphs">/WP</text>
<polyline points="607,352 617.5,366 622.6,366" fill="none" stroke="#9a9a9a" stroke-width="1"/>
<rect x="594.1" y="375.4" width="13.699999999999932" height="57.60000000000002" fill="none" stroke="#444" stroke-width="1" rx="0" />
<rect x="595.06" y="376.21" width="4.93" height="4.15" fill="none" stroke="#888" stroke-width="0.55" rx="0" />
<rect x="596.57" y="377.33" width="1.9" height="1.9" fill="#1e1e1e" stroke="#3a3a3a" stroke-width="0" rx="0" />
<rect x="595.06" y="381.97" width="4.93" height="4.15" fill="none" stroke="#888" stroke-width="0.55" rx="0" />
<rect x="596.57" y="383.09" width="1.9" height="1.9" fill="#1e1e1e" stroke="#3a3a3a" stroke-width="0" rx="0" />
<rect x="595.06" y="387.73" width="4.93" height="4.15" fill="none" stroke="#888" stroke-width="0.55" rx="0" />
<rect x="596.57" y="388.85" width="1.9" height="1.9" fill="#1e1e1e" stroke="#3a3a3a" stroke-width="0" rx="0" />
<rect x="595.06" y="393.49" width="4.93" height="4.15" fill="none" stroke="#888" stroke-width="0.55" rx="0" />
<rect x="596.57" y="394.61" width="1.9" height="1.9" fill="#1e1e1e" stroke="#3a3a3a" stroke-width="0" rx="0" />
<rect x="595.06" y="399.25" width="4.93" height="4.15" fill="none" stroke="#888" stroke-width="0.55" rx="0" />
<rect x="596.57" y="400.37" width="1.9" height="1.9" fill="#1e1e1e" stroke="#3a3a3a" stroke-width="0" rx="0" />
<rect x="595.06" y="405.01" width="4.93" height="4.15" fill="none" stroke="#888" stroke-width="0.55" rx="0" />
<rect x="596.57" y="406.13" width="1.9" height="1.9" fill="#1e1e1e" stroke="#3a3a3a" stroke-width="0" rx="0" />
<rect x="595.06" y="410.77" width="4.93" height="4.15" fill="none" stroke="#888" stroke-width="0.55" rx="0" />
<rect x="596.57" y="411.89" width="1.9" height="1.9" fill="#1e1e1e" stroke="#3a3a3a" stroke-width="0" rx="0" />
<rect x="595.06" y="416.53" width="4.93" height="4.15" fill="none" stroke="#888" stroke-width="0.55" rx="0" />
<rect x="596.57" y="417.65" width="1.9" height="1.9" fill="#1e1e1e" stroke="#3a3a3a" stroke-width="0" rx="0" />
<rect x="595.06" y="422.29" width="4.93" height="4.15" fill="none" stroke="#888" stroke-width="0.55" rx="0" />
<rect x="596.57" y="423.41" width="1.9" height="1.9" fill="#1e1e1e" stroke="#3a3a3a" stroke-width="0" rx="0" />
<rect x="595.06" y="428.05" width="4.93" height="4.15" fill="none" stroke="#888" stroke-width="0.55" rx="0" />
<rect x="596.57" y="429.17" width="1.9" height="1.9" fill="#1e1e1e" stroke="#3a3a3a" stroke-width="0" rx="0" />
<rect x="601.91" y="376.21" width="4.93" height="4.15" fill="none" stroke="#888" stroke-width="0.55" rx="0" />
<rect x="603.42" y="377.33" width="1.9" height="1.9" fill="#1e1e1e" stroke="#3a3a3a" stroke-width="0" rx="0" />
<rect x="601.91" y="381.97" width="4.93" height="4.15" fill="none" stroke="#888" stroke-width="0.55" rx="0" />
<rect x="603.42" y="383.09" width="1.9" height="1.9" fill="#1e1e1e" stroke="#3a3a3a" stroke-width="0" rx="0" />
<rect x="601.91" y="387.73" width="4.93" height="4.15" fill="none" stroke="#888" stroke-width="0.55" rx="0" />
<rect x="603.42" y="388.85" width="1.9" height="1.9" fill="#1e1e1e" stroke="#3a3a3a" stroke-width="0" rx="0" />
<rect x="601.91" y="393.49" width="4.93" height="4.15" fill="none" stroke="#888" stroke-width="0.55" rx="0" />
<rect x="603.42" y="394.61" width="1.9" height="1.9" fill="#1e1e1e" stroke="#3a3a3a" stroke-width="0" rx="0" />
<rect x="601.91" y="399.25" width="4.93" height="4.15" fill="none" stroke="#888" stroke-width="0.55" rx="0" />
<rect x="603.42" y="400.37" width="1.9" height="1.9" fill="#1e1e1e" stroke="#3a3a3a" stroke-width="0" rx="0" />
<rect x="601.91" y="405.01" width="4.93" height="4.15" fill="none" stroke="#888" stroke-width="0.55" rx="0" />
<rect x="603.42" y="406.13" width="1.9" height="1.9" fill="#1e1e1e" stroke="#3a3a3a" stroke-width="0" rx="0" />
<rect x="601.91" y="410.77" width="4.93" height="4.15" fill="none" stroke="#888" stroke-width="0.55" rx="0" />
<rect x="603.42" y="411.89" width="1.9" height="1.9" fill="#1e1e1e" stroke="#3a3a3a" stroke-width="0" rx="0" />
<rect x="601.91" y="416.53" width="4.93" height="4.15" fill="none" stroke="#888" stroke-width="0.55" rx="0" />
<rect x="603.42" y="417.65" width="1.9" height="1.9" fill="#1e1e1e" stroke="#3a3a3a" stroke-width="0" rx="0" />
<rect x="601.91" y="422.29" width="4.93" height="4.15" fill="none" stroke="#888" stroke-width="0.55" rx="0" />
<rect x="603.42" y="423.41" width="1.9" height="1.9" fill="#1e1e1e" stroke="#3a3a3a" stroke-width="0" rx="0" />
<text x="590.8" y="412.3" font-size="4.6" font-weight="bold" fill="#444" font-family="Liberation Sans" text-anchor="middle" textLength="24.6" lengthAdjust="spacingAndGlyphs" transform="rotate(-90 590.8 412.3)">USB3_5_6</text>
<text x="590" y="379" font-size="3.6" font-weight="normal" fill="#444" font-family="Liberation Sans" text-anchor="start">1</text>
<line x1="607.8" y1="404.6" x2="622.6" y2="404.6" stroke="#9a9a9a" stroke-width="1" />
<rect x="584.5" y="435.1" width="33.0" height="150.60000000000002" fill="none" stroke="#333" stroke-width="1.6" rx="0" />
<line x1="584.5" y1="472.7" x2="617.5" y2="472.7" stroke="#333" stroke-width="2.2" />
<line x1="584.5" y1="510.7" x2="617.5" y2="510.7" stroke="#333" stroke-width="2.2" />
<line x1="584.5" y1="548.6" x2="617.5" y2="548.6" stroke="#333" stroke-width="2.2" />
<text x="599.3" y="453.9" font-size="5.9" font-weight="bold" fill="#333" font-family="Liberation Sans" text-anchor="middle" textLength="21" lengthAdjust="spacingAndGlyphs" transform="rotate(-90 599.3 453.9)">SATA3_8</text>
<text x="606.2" y="453.9" font-size="5.9" font-weight="bold" fill="#333" font-family="Liberation Sans" text-anchor="middle" textLength="21" lengthAdjust="spacingAndGlyphs" transform="rotate(-90 606.2 453.9)">SATA3_7</text>
<line x1="617.5" y1="452.4" x2="622.8" y2="452.4" stroke="#9a9a9a" stroke-width="0.9" />
<line x1="620.5" y1="451.29999999999995" x2="620.5" y2="453.5" stroke="#9a9a9a" stroke-width="0.7" />
<text x="599.3" y="491.7" font-size="5.9" font-weight="bold" fill="#333" font-family="Liberation Sans" text-anchor="middle" textLength="21" lengthAdjust="spacingAndGlyphs" transform="rotate(-90 599.3 491.7)">SATA3_6</text>
<text x="606.2" y="491.7" font-size="5.9" font-weight="bold" fill="#333" font-family="Liberation Sans" text-anchor="middle" textLength="21" lengthAdjust="spacingAndGlyphs" transform="rotate(-90 606.2 491.7)">SATA3_5</text>
<line x1="617.5" y1="490.2" x2="622.8" y2="490.2" stroke="#9a9a9a" stroke-width="0.9" />
<line x1="620.5" y1="489.09999999999997" x2="620.5" y2="491.3" stroke="#9a9a9a" stroke-width="0.7" />
<text x="599.3" y="529.65" font-size="5.9" font-weight="bold" fill="#333" font-family="Liberation Sans" text-anchor="middle" textLength="21" lengthAdjust="spacingAndGlyphs" transform="rotate(-90 599.3 529.65)">SATA3_4</text>
<text x="606.2" y="529.65" font-size="5.9" font-weight="bold" fill="#333" font-family="Liberation Sans" text-anchor="middle" textLength="21" lengthAdjust="spacingAndGlyphs" transform="rotate(-90 606.2 529.65)">SATA3_3</text>
<line x1="617.5" y1="528.15" x2="622.8" y2="528.15" stroke="#9a9a9a" stroke-width="0.9" />
<line x1="620.5" y1="527.05" x2="620.5" y2="529.25" stroke="#9a9a9a" stroke-width="0.7" />
<text x="599.3" y="567.1500000000001" font-size="5.9" font-weight="bold" fill="#333" font-family="Liberation Sans" text-anchor="middle" textLength="21" lengthAdjust="spacingAndGlyphs" transform="rotate(-90 599.3 567.1500000000001)">SATA3_2</text>
<text x="606.2" y="567.1500000000001" font-size="5.9" font-weight="bold" fill="#333" font-family="Liberation Sans" text-anchor="middle" textLength="21" lengthAdjust="spacingAndGlyphs" transform="rotate(-90 606.2 567.1500000000001)">SATA3_1</text>
<line x1="617.5" y1="565.6500000000001" x2="622.8" y2="565.6500000000001" stroke="#9a9a9a" stroke-width="0.9" />
<line x1="620.5" y1="564.5500000000001" x2="620.5" y2="566.7500000000001" stroke="#9a9a9a" stroke-width="0.7" />
<text x="560" y="594.5" font-size="4" font-weight="bold" fill="#444" font-family="Liberation Sans" text-anchor="start" textLength="23.6" lengthAdjust="spacingAndGlyphs">GPX_PLGD1</text>
<rect x="585.4" y="589.3" width="22.5" height="13.300000000000068" fill="none" stroke="#444" stroke-width="1" rx="0" />
<rect x="586.19" y="590.23" width="4.05" height="4.79" fill="none" stroke="#888" stroke-width="0.55" rx="0" />
<rect x="587.11" y="591.52" width="2.2" height="2.2" fill="#1e1e1e" stroke="#3a3a3a" stroke-width="0" rx="0" />
<rect x="591.81" y="590.23" width="4.05" height="4.79" fill="none" stroke="#888" stroke-width="0.55" rx="0" />
<rect x="592.74" y="591.52" width="2.2" height="2.2" fill="#1e1e1e" stroke="#3a3a3a" stroke-width="0" rx="0" />
<rect x="591.81" y="596.88" width="4.05" height="4.79" fill="none" stroke="#888" stroke-width="0.55" rx="0" />
<rect x="592.74" y="598.17" width="2.2" height="2.2" fill="#1e1e1e" stroke="#3a3a3a" stroke-width="0" rx="0" />
<rect x="597.44" y="590.23" width="4.05" height="4.79" fill="none" stroke="#888" stroke-width="0.55" rx="0" />
<rect x="598.36" y="591.52" width="2.2" height="2.2" fill="#1e1e1e" stroke="#3a3a3a" stroke-width="0" rx="0" />
<rect x="597.44" y="596.88" width="4.05" height="4.79" fill="none" stroke="#888" stroke-width="0.55" rx="0" />
<rect x="598.36" y="598.17" width="2.2" height="2.2" fill="#1e1e1e" stroke="#3a3a3a" stroke-width="0" rx="0" />
<rect x="603.06" y="590.23" width="4.05" height="4.79" fill="none" stroke="#888" stroke-width="0.55" rx="0" />
<rect x="603.99" y="591.52" width="2.2" height="2.2" fill="#1e1e1e" stroke="#3a3a3a" stroke-width="0" rx="0" />
<rect x="603.06" y="596.88" width="4.05" height="4.79" fill="none" stroke="#888" stroke-width="0.55" rx="0" />
<rect x="603.99" y="598.17" width="2.2" height="2.2" fill="#1e1e1e" stroke="#3a3a3a" stroke-width="0" rx="0" />
<line x1="607.9" y1="597.1" x2="622.6" y2="597.1" stroke="#9a9a9a" stroke-width="1" />
<rect x="576.4" y="605.4" width="21.5" height="30.600000000000023" fill="none" stroke="#444" stroke-width="1.6" rx="0" />
<rect x="578.6" y="607.6" width="7.7999999999999545" height="7.7999999999999545" fill="none" stroke="#555" stroke-width="1.1" rx="0" />
<rect x="578.6" y="617.2" width="7.7999999999999545" height="7.7999999999999545" fill="none" stroke="#555" stroke-width="1.1" rx="0" />
<rect x="578.6" y="626.8000000000001" width="7.7999999999999545" height="7.7999999999999545" fill="none" stroke="#555" stroke-width="1.1" rx="0" />
<rect x="588.4" y="607.6" width="7.7999999999999545" height="7.7999999999999545" fill="none" stroke="#555" stroke-width="1.1" rx="0" />
<rect x="588.4" y="617.2" width="7.7999999999999545" height="7.7999999999999545" fill="none" stroke="#555" stroke-width="1.1" rx="0" />
<rect x="588.4" y="626.8000000000001" width="7.7999999999999545" height="7.7999999999999545" fill="none" stroke="#555" stroke-width="1.1" rx="0" />
<rect x="572.6" y="616.4" width="3.7999999999999545" height="9.0" fill="none" stroke="#444" stroke-width="1.1" rx="0" />
<text x="555" y="611.3" font-size="4" font-weight="bold" fill="#444" font-family="Liberation Sans" text-anchor="start" textLength="20" lengthAdjust="spacingAndGlyphs">GPX_12V1</text>
<line x1="597.9" y1="615.7" x2="622.6" y2="615.7" stroke="#9a9a9a" stroke-width="1" />
<rect x="597.4" y="640.3" width="20.100000000000023" height="26.800000000000068" fill="none" stroke="#333" stroke-width="1.4" rx="0" />
<rect x="600.7" y="641.5" width="5.699999999999932" height="24.5" fill="none" stroke="#444" stroke-width="1" rx="0" />
<rect x="607.9" y="641.5" width="6.399999999999977" height="24.5" fill="none" stroke="#444" stroke-width="1" rx="0" />
<line x1="601.8" y1="642" x2="601.8" y2="665.5" stroke="#555" stroke-width="0.8" />
<line x1="609" y1="642" x2="609" y2="665.5" stroke="#555" stroke-width="0.8" />
<text x="608" y="674.8" font-size="7.5" font-weight="normal" fill="#444" font-family="Liberation Sans" text-anchor="middle" textLength="13.2" lengthAdjust="spacingAndGlyphs">U2_1</text>
<line x1="617.5" y1="663.6" x2="622.6" y2="663.6" stroke="#9a9a9a" stroke-width="1" />
<text x="449" y="626.2" font-size="4" font-weight="bold" fill="#444" font-family="Liberation Sans" text-anchor="start" textLength="22" lengthAdjust="spacingAndGlyphs">CLRCMOS1</text>
<rect x="455" y="629" width="10.5" height="4.899999999999977" fill="none" stroke="#444" stroke-width="1" rx="0" />
<rect x="455.74" y="629.69" width="3.78" height="3.53" fill="none" stroke="#888" stroke-width="0.55" rx="0" />
<rect x="456.82" y="630.65" width="1.6" height="1.6" fill="#1e1e1e" stroke="#3a3a3a" stroke-width="0" rx="0" />
<rect x="460.99" y="629.69" width="3.78" height="3.53" fill="none" stroke="#888" stroke-width="0.55" rx="0" />
<rect x="462.07" y="630.65" width="1.6" height="1.6" fill="#1e1e1e" stroke="#3a3a3a" stroke-width="0" rx="0" />
<text x="450.5" y="633.8" font-size="3.6" font-weight="normal" fill="#444" font-family="Liberation Sans" text-anchor="start">1</text>
<polyline points="465.5,630.6 502.2,637.3 622.6,637.3" fill="none" stroke="#9a9a9a" stroke-width="1"/>
<text x="130.9" y="659.3" font-size="4" font-weight="bold" fill="#333" font-family="Liberation Sans" text-anchor="start" textLength="23.6" lengthAdjust="spacingAndGlyphs">HD_AUDIO1</text>
<rect x="127.9" y="661.4" width="28.299999999999983" height="10.899999999999977" fill="none" stroke="#444" stroke-width="1" rx="0" />
<rect x="128.69" y="662.16" width="4.08" height="3.92" fill="none" stroke="#888" stroke-width="0.55" rx="0" />
<rect x="129.88" y="663.27" width="1.7" height="1.7" fill="#1e1e1e" stroke="#3a3a3a" stroke-width="0" rx="0" />
<rect x="128.69" y="667.61" width="4.08" height="3.92" fill="none" stroke="#888" stroke-width="0.55" rx="0" />
<rect x="129.88" y="668.72" width="1.7" height="1.7" fill="#1e1e1e" stroke="#3a3a3a" stroke-width="0" rx="0" />
<rect x="134.35" y="662.16" width="4.08" height="3.92" fill="none" stroke="#888" stroke-width="0.55" rx="0" />
<rect x="135.54" y="663.27" width="1.7" height="1.7" fill="#1e1e1e" stroke="#3a3a3a" stroke-width="0" rx="0" />
<rect x="134.35" y="667.61" width="4.08" height="3.92" fill="none" stroke="#888" stroke-width="0.55" rx="0" />
<rect x="135.54" y="668.72" width="1.7" height="1.7" fill="#1e1e1e" stroke="#3a3a3a" stroke-width="0" rx="0" />
<rect x="140.01" y="662.16" width="4.08" height="3.92" fill="none" stroke="#888" stroke-width="0.55" rx="0" />
<rect x="141.2" y="663.27" width="1.7" height="1.7" fill="#1e1e1e" stroke="#3a3a3a" stroke-width="0" rx="0" />
<rect x="140.01" y="667.61" width="4.08" height="3.92" fill="none" stroke="#888" stroke-width="0.55" rx="0" />
<rect x="141.2" y="668.72" width="1.7" height="1.7" fill="#1e1e1e" stroke="#3a3a3a" stroke-width="0" rx="0" />
<rect x="145.67" y="667.61" width="4.08" height="3.92" fill="none" stroke="#888" stroke-width="0.55" rx="0" />
<rect x="146.86" y="668.72" width="1.7" height="1.7" fill="#1e1e1e" stroke="#3a3a3a" stroke-width="0" rx="0" />
<rect x="151.33" y="662.16" width="4.08" height="3.92" fill="none" stroke="#888" stroke-width="0.55" rx="0" />
<rect x="152.52" y="663.27" width="1.7" height="1.7" fill="#1e1e1e" stroke="#3a3a3a" stroke-width="0" rx="0" />
<rect x="151.33" y="667.61" width="4.08" height="3.92" fill="none" stroke="#888" stroke-width="0.55" rx="0" />
<rect x="152.52" y="668.72" width="1.7" height="1.7" fill="#1e1e1e" stroke="#3a3a3a" stroke-width="0" rx="0" />
<polyline points="127.3,668.5 127.3,672.8 133,672.8" fill="none" stroke="#111" stroke-width="1.4"/>
<text x="124.3" y="669.5" font-size="3.2" font-weight="normal" fill="#666" font-family="Liberation Sans" text-anchor="start">1</text>
<rect x="160.8" y="652" width="29.69999999999999" height="31.5" fill="none" stroke="#3a3a3a" stroke-width="1.35" rx="0" />
<text x="166" y="666.7" font-size="3.6" font-weight="bold" fill="#444" font-family="Liberation Sans" text-anchor="start" textLength="20" lengthAdjust="spacingAndGlyphs">HD_AUDIO</text>
<text x="166" y="670.8" font-size="3.6" font-weight="bold" fill="#444" font-family="Liberation Sans" text-anchor="start" textLength="8" lengthAdjust="spacingAndGlyphs">_RA1</text>
<text x="200.5" y="659.3" font-size="4" font-weight="bold" fill="#333" font-family="Liberation Sans" text-anchor="start" textLength="11" lengthAdjust="spacingAndGlyphs">COM1</text>
<rect x="195.2" y="662" width="27.5" height="10.299999999999955" fill="none" stroke="#444" stroke-width="1" rx="0" />
<rect x="195.97" y="662.72" width="3.96" height="3.71" fill="none" stroke="#888" stroke-width="0.55" rx="0" />
<rect x="197.1" y="663.73" width="1.7" height="1.7" fill="#1e1e1e" stroke="#3a3a3a" stroke-width="0" rx="0" />
<rect x="195.97" y="667.87" width="3.96" height="3.71" fill="none" stroke="#888" stroke-width="0.55" rx="0" />
<rect x="197.1" y="668.87" width="1.7" height="1.7" fill="#1e1e1e" stroke="#3a3a3a" stroke-width="0" rx="0" />
<rect x="201.47" y="662.72" width="3.96" height="3.71" fill="none" stroke="#888" stroke-width="0.55" rx="0" />
<rect x="202.6" y="663.73" width="1.7" height="1.7" fill="#1e1e1e" stroke="#3a3a3a" stroke-width="0" rx="0" />
<rect x="201.47" y="667.87" width="3.96" height="3.71" fill="none" stroke="#888" stroke-width="0.55" rx="0" />
<rect x="202.6" y="668.87" width="1.7" height="1.7" fill="#1e1e1e" stroke="#3a3a3a" stroke-width="0" rx="0" />
<rect x="206.97" y="662.72" width="3.96" height="3.71" fill="none" stroke="#888" stroke-width="0.55" rx="0" />
<rect x="208.1" y="663.73" width="1.7" height="1.7" fill="#1e1e1e" stroke="#3a3a3a" stroke-width="0" rx="0" />
<rect x="206.97" y="667.87" width="3.96" height="3.71" fill="none" stroke="#888" stroke-width="0.55" rx="0" />
<rect x="208.1" y="668.87" width="1.7" height="1.7" fill="#1e1e1e" stroke="#3a3a3a" stroke-width="0" rx="0" />
<rect x="212.47" y="662.72" width="3.96" height="3.71" fill="none" stroke="#888" stroke-width="0.55" rx="0" />
<rect x="213.6" y="663.73" width="1.7" height="1.7" fill="#1e1e1e" stroke="#3a3a3a" stroke-width="0" rx="0" />
<rect x="212.47" y="667.87" width="3.96" height="3.71" fill="none" stroke="#888" stroke-width="0.55" rx="0" />
<rect x="213.6" y="668.87" width="1.7" height="1.7" fill="#1e1e1e" stroke="#3a3a3a" stroke-width="0" rx="0" />
<rect x="217.97" y="667.87" width="3.96" height="3.71" fill="none" stroke="#888" stroke-width="0.55" rx="0" />
<rect x="219.1" y="668.87" width="1.7" height="1.7" fill="#1e1e1e" stroke="#3a3a3a" stroke-width="0" rx="0" />
<polyline points="194.7,668.5 194.7,672.8 200,672.8" fill="none" stroke="#111" stroke-width="1.4"/>
<path d="M229.3,648.5 L253,648.5 Q256,648.5 256,651.5 L256,657 Q256,660 253,660 L229.3,660 Z" fill="none" stroke="#333" stroke-width="1.4"/>
<rect x="235.2" y="653.5" width="1.6" height="1.6" fill="#222" stroke="#3a3a3a" stroke-width="0" rx="0" />
<rect x="239.7" y="653.5" width="1.6" height="1.6" fill="#222" stroke="#3a3a3a" stroke-width="0" rx="0" />
<rect x="244.2" y="653.5" width="1.6" height="1.6" fill="#222" stroke="#3a3a3a" stroke-width="0" rx="0" />
<rect x="248.7" y="653.5" width="1.6" height="1.6" fill="#222" stroke="#3a3a3a" stroke-width="0" rx="0" />
<text x="257.5" y="655" font-size="4" font-weight="bold" fill="#333" font-family="Liberation Sans" text-anchor="start" textLength="11" lengthAdjust="spacingAndGlyphs">IPMB1</text>
<text x="226.5" y="659.5" font-size="3.4" font-weight="normal" fill="#444" font-family="Liberation Sans" text-anchor="start">1</text>
<rect x="227.6" y="663" width="29.799999999999983" height="10" fill="none" stroke="#333" stroke-width="1.4" rx="0" />
<rect x="231" y="662.6" width="23" height="1.6" fill="#111" stroke="#3a3a3a" stroke-width="0" rx="0" />
<rect x="230.7" y="667.5" width="1.6" height="1.6" fill="#222" stroke="#3a3a3a" stroke-width="0" rx="0" />
<rect x="235.2" y="667.5" width="1.6" height="1.6" fill="#222" stroke="#3a3a3a" stroke-width="0" rx="0" />
<rect x="239.7" y="667.5" width="1.6" height="1.6" fill="#222" stroke="#3a3a3a" stroke-width="0" rx="0" />
<rect x="244.2" y="667.5" width="1.6" height="1.6" fill="#222" stroke="#3a3a3a" stroke-width="0" rx="0" />
<rect x="248.7" y="667.5" width="1.6" height="1.6" fill="#222" stroke="#3a3a3a" stroke-width="0" rx="0" />
<rect x="253.2" y="667.5" width="1.6" height="1.6" fill="#222" stroke="#3a3a3a" stroke-width="0" rx="0" />
<text x="236" y="677" font-size="4" font-weight="bold" fill="#555" font-family="Liberation Sans" text-anchor="start" textLength="19" lengthAdjust="spacingAndGlyphs">BMC_SMB1</text>
<line x1="226.8" y1="661" x2="222" y2="675" stroke="#aaa" stroke-width="0.7" />
<text x="264.5" y="664" font-size="3" font-weight="normal" fill="#555" font-family="Liberation Sans" text-anchor="start">1</text>
<rect x="260.7" y="665.5" width="11.600000000000023" height="6.7999999999999545" fill="none" stroke="#444" stroke-width="1" rx="0" />
<rect x="261.51" y="666.45" width="4.18" height="4.9" fill="none" stroke="#888" stroke-width="0.55" rx="0" />
<rect x="262.75" y="668.05" width="1.7" height="1.7" fill="#1e1e1e" stroke="#3a3a3a" stroke-width="0" rx="0" />
<rect x="267.31" y="666.45" width="4.18" height="4.9" fill="none" stroke="#888" stroke-width="0.55" rx="0" />
<rect x="268.55" y="668.05" width="1.7" height="1.7" fill="#1e1e1e" stroke="#3a3a3a" stroke-width="0" rx="0" />
<rect x="260.4" y="665.2" width="5.9" height="7.4" fill="none" stroke="#111" stroke-width="1.2" rx="0" />
<text x="260" y="677" font-size="4" font-weight="bold" fill="#444" font-family="Liberation Sans" text-anchor="start" textLength="15.5" lengthAdjust="spacingAndGlyphs">BMC_BTN1</text>
<text x="277.5" y="663.6" font-size="4" font-weight="bold" fill="#444" font-family="Liberation Sans" text-anchor="start" textLength="22.5" lengthAdjust="spacingAndGlyphs">ADDR_LED1</text>
<rect x="277.2" y="667" width="22.600000000000023" height="5.7999999999999545" fill="none" stroke="#444" stroke-width="1" rx="0" />
<rect x="277.99" y="667.81" width="4.07" height="4.18" fill="none" stroke="#888" stroke-width="0.55" rx="0" />
<rect x="279.22" y="669.1" width="1.6" height="1.6" fill="#1e1e1e" stroke="#3a3a3a" stroke-width="0" rx="0" />
<rect x="283.64" y="667.81" width="4.07" height="4.18" fill="none" stroke="#888" stroke-width="0.55" rx="0" />
<rect x="284.88" y="669.1" width="1.6" height="1.6" fill="#1e1e1e" stroke="#3a3a3a" stroke-width="0" rx="0" />
<rect x="294.94" y="667.81" width="4.07" height="4.18" fill="none" stroke="#888" stroke-width="0.55" rx="0" />
<rect x="296.18" y="669.1" width="1.6" height="1.6" fill="#1e1e1e" stroke="#3a3a3a" stroke-width="0" rx="0" />
<text x="274" y="672.5" font-size="3.4" font-weight="normal" fill="#444" font-family="Liberation Sans" text-anchor="start">1</text>
<text x="303.2" y="656.2" font-size="4.2" font-weight="bold" fill="#333" font-family="Liberation Sans" text-anchor="start" textLength="20" lengthAdjust="spacingAndGlyphs">CHA_FAN1</text>
<text x="303.2" y="660.8" font-size="4.2" font-weight="bold" fill="#333" font-family="Liberation Sans" text-anchor="start" textLength="8" lengthAdjust="spacingAndGlyphs">/WP</text>
<rect x="303.2" y="662" width="24.600000000000023" height="14.5" fill="none" stroke="#222" stroke-width="1.5" rx="0" />
<rect x="306.1" y="667.8" width="2.4" height="2.4" fill="#111" stroke="#3a3a3a" stroke-width="0" rx="0" />
<rect x="310.8" y="667.8" width="2.4" height="2.4" fill="#111" stroke="#3a3a3a" stroke-width="0" rx="0" />
<rect x="315.6" y="667.8" width="2.4" height="2.4" fill="#111" stroke="#3a3a3a" stroke-width="0" rx="0" />
<rect x="320.40000000000003" y="667.8" width="2.4" height="2.4" fill="#111" stroke="#3a3a3a" stroke-width="0" rx="0" />
<rect x="307" y="674" width="12.5" height="2.5" fill="#111" stroke="#3a3a3a" stroke-width="0" rx="0" />
<text x="335.3" y="657.6" font-size="4.3" font-weight="bold" fill="#333" font-family="Liberation Sans" text-anchor="start" textLength="18.5" lengthAdjust="spacingAndGlyphs">USB_1_2</text>
<rect x="330" y="660.4" width="29.30000000000001" height="12.600000000000023" fill="none" stroke="#444" stroke-width="1" rx="0" />
<rect x="330.82" y="667.58" width="4.22" height="4.54" fill="none" stroke="#888" stroke-width="0.55" rx="0" />
<rect x="331.88" y="668.8" width="2.1" height="2.1" fill="#1e1e1e" stroke="#3a3a3a" stroke-width="0" rx="0" />
<rect x="336.68" y="661.28" width="4.22" height="4.54" fill="none" stroke="#888" stroke-width="0.55" rx="0" />
<rect x="337.74" y="662.5" width="2.1" height="2.1" fill="#1e1e1e" stroke="#3a3a3a" stroke-width="0" rx="0" />
<rect x="336.68" y="667.58" width="4.22" height="4.54" fill="none" stroke="#888" stroke-width="0.55" rx="0" />
<rect x="337.74" y="668.8" width="2.1" height="2.1" fill="#1e1e1e" stroke="#3a3a3a" stroke-width="0" rx="0" />
<rect x="342.54" y="661.28" width="4.22" height="4.54" fill="none" stroke="#888" stroke-width="0.55" rx="0" />
<rect x="343.6" y="662.5" width="2.1" height="2.1" fill="#1e1e1e" stroke="#3a3a3a" stroke-width="0" rx="0" />
<rect x="342.54" y="667.58" width="4.22" height="4.54" fill="none" stroke="#888" stroke-width="0.55" rx="0" />
<rect x="343.6" y="668.8" width="2.1" height="2.1" fill="#1e1e1e" stroke="#3a3a3a" stroke-width="0" rx="0" />
<rect x="348.4" y="661.28" width="4.22" height="4.54" fill="none" stroke="#888" stroke-width="0.55" rx="0" />
<rect x="349.46" y="662.5" width="2.1" height="2.1" fill="#1e1e1e" stroke="#3a3a3a" stroke-width="0" rx="0" />
<rect x="348.4" y="667.58" width="4.22" height="4.54" fill="none" stroke="#888" stroke-width="0.55" rx="0" />
<rect x="349.46" y="668.8" width="2.1" height="2.1" fill="#1e1e1e" stroke="#3a3a3a" stroke-width="0" rx="0" />
<rect x="354.26" y="661.28" width="4.22" height="4.54" fill="none" stroke="#888" stroke-width="0.55" rx="0" />
<rect x="355.32" y="662.5" width="2.1" height="2.1" fill="#1e1e1e" stroke="#3a3a3a" stroke-width="0" rx="0" />
<rect x="354.26" y="667.58" width="4.22" height="4.54" fill="none" stroke="#888" stroke-width="0.55" rx="0" />
<rect x="355.32" y="668.8" width="2.1" height="2.1" fill="#1e1e1e" stroke="#3a3a3a" stroke-width="0" rx="0" />
<rect x="353.6" y="660.6" width="5.5" height="12.199999999999932" fill="none" stroke="#222" stroke-width="1" rx="0" />
<text x="361" y="664.5" font-size="3.2" font-weight="normal" fill="#666" font-family="Liberation Sans" text-anchor="start">1</text>
<text x="381.6" y="657.6" font-size="4.3" font-weight="bold" fill="#333" font-family="Liberation Sans" text-anchor="start" textLength="21.6" lengthAdjust="spacingAndGlyphs">USB3_3_4</text>
<rect x="366.7" y="660.4" width="52.69999999999999" height="12.600000000000023" fill="none" stroke="#444" stroke-width="1" rx="0" />
<rect x="367.44" y="661.28" width="3.79" height="4.54" fill="none" stroke="#888" stroke-width="0.55" rx="0" />
<rect x="368.28" y="662.5" width="2.1" height="2.1" fill="#1e1e1e" stroke="#3a3a3a" stroke-width="0" rx="0" />
<rect x="367.44" y="667.58" width="3.79" height="4.54" fill="none" stroke="#888" stroke-width="0.55" rx="0" />
<rect x="368.28" y="668.8" width="2.1" height="2.1" fill="#1e1e1e" stroke="#3a3a3a" stroke-width="0" rx="0" />
<rect x="372.71" y="661.28" width="3.79" height="4.54" fill="none" stroke="#888" stroke-width="0.55" rx="0" />
<rect x="373.55" y="662.5" width="2.1" height="2.1" fill="#1e1e1e" stroke="#3a3a3a" stroke-width="0" rx="0" />
<rect x="372.71" y="667.58" width="3.79" height="4.54" fill="none" stroke="#888" stroke-width="0.55" rx="0" />
<rect x="373.55" y="668.8" width="2.1" height="2.1" fill="#1e1e1e" stroke="#3a3a3a" stroke-width="0" rx="0" />
<rect x="377.98" y="661.28" width="3.79" height="4.54" fill="none" stroke="#888" stroke-width="0.55" rx="0" />
<rect x="378.82" y="662.5" width="2.1" height="2.1" fill="#1e1e1e" stroke="#3a3a3a" stroke-width="0" rx="0" />
<rect x="377.98" y="667.58" width="3.79" height="4.54" fill="none" stroke="#888" stroke-width="0.55" rx="0" />
<rect x="378.82" y="668.8" width="2.1" height="2.1" fill="#1e1e1e" stroke="#3a3a3a" stroke-width="0" rx="0" />
<rect x="383.25" y="661.28" width="3.79" height="4.54" fill="none" stroke="#888" stroke-width="0.55" rx="0" />
<rect x="384.09" y="662.5" width="2.1" height="2.1" fill="#1e1e1e" stroke="#3a3a3a" stroke-width="0" rx="0" />
<rect x="383.25" y="667.58" width="3.79" height="4.54" fill="none" stroke="#888" stroke-width="0.55" rx="0" />
<rect x="384.09" y="668.8" width="2.1" height="2.1" fill="#1e1e1e" stroke="#3a3a3a" stroke-width="0" rx="0" />
<rect x="388.52" y="661.28" width="3.79" height="4.54" fill="none" stroke="#888" stroke-width="0.55" rx="0" />
<rect x="389.36" y="662.5" width="2.1" height="2.1" fill="#1e1e1e" stroke="#3a3a3a" stroke-width="0" rx="0" />
<rect x="388.52" y="667.58" width="3.79" height="4.54" fill="none" stroke="#888" stroke-width="0.55" rx="0" />
<rect x="389.36" y="668.8" width="2.1" height="2.1" fill="#1e1e1e" stroke="#3a3a3a" stroke-width="0" rx="0" />
<rect x="393.79" y="661.28" width="3.79" height="4.54" fill="none" stroke="#888" stroke-width="0.55" rx="0" />
<rect x="394.63" y="662.5" width="2.1" height="2.1" fill="#1e1e1e" stroke="#3a3a3a" stroke-width="0" rx="0" />
<rect x="393.79" y="667.58" width="3.79" height="4.54" fill="none" stroke="#888" stroke-width="0.55" rx="0" />
<rect x="394.63" y="668.8" width="2.1" height="2.1" fill="#1e1e1e" stroke="#3a3a3a" stroke-width="0" rx="0" />
<rect x="399.06" y="661.28" width="3.79" height="4.54" fill="none" stroke="#888" stroke-width="0.55" rx="0" />
<rect x="399.9" y="662.5" width="2.1" height="2.1" fill="#1e1e1e" stroke="#3a3a3a" stroke-width="0" rx="0" />
<rect x="399.06" y="667.58" width="3.79" height="4.54" fill="none" stroke="#888" stroke-width="0.55" rx="0" />
<rect x="399.9" y="668.8" width="2.1" height="2.1" fill="#1e1e1e" stroke="#3a3a3a" stroke-width="0" rx="0" />
<rect x="404.33" y="661.28" width="3.79" height="4.54" fill="none" stroke="#888" stroke-width="0.55" rx="0" />
<rect x="405.17" y="662.5" width="2.1" height="2.1" fill="#1e1e1e" stroke="#3a3a3a" stroke-width="0" rx="0" />
<rect x="404.33" y="667.58" width="3.79" height="4.54" fill="none" stroke="#888" stroke-width="0.55" rx="0" />
<rect x="405.17" y="668.8" width="2.1" height="2.1" fill="#1e1e1e" stroke="#3a3a3a" stroke-width="0" rx="0" />
<rect x="409.6" y="661.28" width="3.79" height="4.54" fill="none" stroke="#888" stroke-width="0.55" rx="0" />
<rect x="410.44" y="662.5" width="2.1" height="2.1" fill="#1e1e1e" stroke="#3a3a3a" stroke-width="0" rx="0" />
<rect x="409.6" y="667.58" width="3.79" height="4.54" fill="none" stroke="#888" stroke-width="0.55" rx="0" />
<rect x="410.44" y="668.8" width="2.1" height="2.1" fill="#1e1e1e" stroke="#3a3a3a" stroke-width="0" rx="0" />
<rect x="414.87" y="667.58" width="3.79" height="4.54" fill="none" stroke="#888" stroke-width="0.55" rx="0" />
<rect x="415.71" y="668.8" width="2.1" height="2.1" fill="#1e1e1e" stroke="#3a3a3a" stroke-width="0" rx="0" />
<rect x="366.2" y="667" width="6" height="6.4" fill="none" stroke="#111" stroke-width="1.2" rx="0" />
<text x="367.8" y="678" font-size="3.2" font-weight="normal" fill="#555" font-family="Liberation Sans" text-anchor="start">2</text>
<text x="421.5" y="656" font-size="4" font-weight="bold" fill="#444" font-family="Liberation Sans" text-anchor="start" textLength="17.5" lengthAdjust="spacingAndGlyphs">RSTBTN1</text>
<rect x="424" y="658.5" width="13.300000000000011" height="13.5" fill="none" stroke="#444" stroke-width="1.3" rx="0" />
<circle cx="430.7" cy="665.2" r="4" fill="#111" stroke="#3a3a3a" stroke-width="0"/>
<circle cx="452" cy="663.1" r="9.5" fill="none" stroke="#333" stroke-width="1.6"/>
<path d="M449.3,660.4 A3.9,3.9 0 1 0 454.7,660.4" fill="none" stroke="#333" stroke-width="1.1"/>
<line x1="452" y1="658.3" x2="452" y2="663.2" stroke="#333" stroke-width="1.1" />
<text x="478" y="658.3" font-size="4" font-weight="bold" fill="#444" font-family="Liberation Sans" text-anchor="start" textLength="26.6" lengthAdjust="spacingAndGlyphs">AUX_PANEL1</text>
<rect x="464.5" y="660.8" width="56.89999999999998" height="10.300000000000068" fill="none" stroke="#444" stroke-width="1" rx="0" />
<rect x="465.3" y="661.52" width="4.1" height="3.71" fill="none" stroke="#888" stroke-width="0.55" rx="0" />
<rect x="466.5" y="662.52" width="1.7" height="1.7" fill="#1e1e1e" stroke="#3a3a3a" stroke-width="0" rx="0" />
<rect x="465.3" y="666.67" width="4.1" height="3.71" fill="none" stroke="#888" stroke-width="0.55" rx="0" />
<rect x="466.5" y="667.67" width="1.7" height="1.7" fill="#1e1e1e" stroke="#3a3a3a" stroke-width="0" rx="0" />
<rect x="470.99" y="661.52" width="4.1" height="3.71" fill="none" stroke="#888" stroke-width="0.55" rx="0" />
<rect x="472.18" y="662.52" width="1.7" height="1.7" fill="#1e1e1e" stroke="#3a3a3a" stroke-width="0" rx="0" />
<rect x="476.68" y="666.67" width="4.1" height="3.71" fill="none" stroke="#888" stroke-width="0.55" rx="0" />
<rect x="477.88" y="667.67" width="1.7" height="1.7" fill="#1e1e1e" stroke="#3a3a3a" stroke-width="0" rx="0" />
<rect x="482.37" y="661.52" width="4.1" height="3.71" fill="none" stroke="#888" stroke-width="0.55" rx="0" />
<rect x="483.56" y="662.52" width="1.7" height="1.7" fill="#1e1e1e" stroke="#3a3a3a" stroke-width="0" rx="0" />
<rect x="482.37" y="666.67" width="4.1" height="3.71" fill="none" stroke="#888" stroke-width="0.55" rx="0" />
<rect x="483.56" y="667.67" width="1.7" height="1.7" fill="#1e1e1e" stroke="#3a3a3a" stroke-width="0" rx="0" />
<rect x="488.06" y="661.52" width="4.1" height="3.71" fill="none" stroke="#888" stroke-width="0.55" rx="0" />
<rect x="489.25" y="662.52" width="1.7" height="1.7" fill="#1e1e1e" stroke="#3a3a3a" stroke-width="0" rx="0" />
<rect x="488.06" y="666.67" width="4.1" height="3.71" fill="none" stroke="#888" stroke-width="0.55" rx="0" />
<rect x="489.25" y="667.67" width="1.7" height="1.7" fill="#1e1e1e" stroke="#3a3a3a" stroke-width="0" rx="0" />
<rect x="493.75" y="661.52" width="4.1" height="3.71" fill="none" stroke="#888" stroke-width="0.55" rx="0" />
<rect x="494.94" y="662.52" width="1.7" height="1.7" fill="#1e1e1e" stroke="#3a3a3a" stroke-width="0" rx="0" />
<rect x="493.75" y="666.67" width="4.1" height="3.71" fill="none" stroke="#888" stroke-width="0.55" rx="0" />
<rect x="494.94" y="667.67" width="1.7" height="1.7" fill="#1e1e1e" stroke="#3a3a3a" stroke-width="0" rx="0" />
<rect x="499.44" y="661.52" width="4.1" height="3.71" fill="none" stroke="#888" stroke-width="0.55" rx="0" />
<rect x="500.63" y="662.52" width="1.7" height="1.7" fill="#1e1e1e" stroke="#3a3a3a" stroke-width="0" rx="0" />
<rect x="499.44" y="666.67" width="4.1" height="3.71" fill="none" stroke="#888" stroke-width="0.55" rx="0" />
<rect x="500.63" y="667.67" width="1.7" height="1.7" fill="#1e1e1e" stroke="#3a3a3a" stroke-width="0" rx="0" />
<rect x="505.13" y="661.52" width="4.1" height="3.71" fill="none" stroke="#888" stroke-width="0.55" rx="0" />
<rect x="506.32" y="662.52" width="1.7" height="1.7" fill="#1e1e1e" stroke="#3a3a3a" stroke-width="0" rx="0" />
<rect x="505.13" y="666.67" width="4.1" height="3.71" fill="none" stroke="#888" stroke-width="0.55" rx="0" />
<rect x="506.32" y="667.67" width="1.7" height="1.7" fill="#1e1e1e" stroke="#3a3a3a" stroke-width="0" rx="0" />
<rect x="510.82" y="661.52" width="4.1" height="3.71" fill="none" stroke="#888" stroke-width="0.55" rx="0" />
<rect x="512.01" y="662.52" width="1.7" height="1.7" fill="#1e1e1e" stroke="#3a3a3a" stroke-width="0" rx="0" />
<rect x="510.82" y="666.67" width="4.1" height="3.71" fill="none" stroke="#888" stroke-width="0.55" rx="0" />
<rect x="512.01" y="667.67" width="1.7" height="1.7" fill="#1e1e1e" stroke="#3a3a3a" stroke-width="0" rx="0" />
<rect x="516.51" y="661.52" width="4.1" height="3.71" fill="none" stroke="#888" stroke-width="0.55" rx="0" />
<rect x="517.7" y="662.52" width="1.7" height="1.7" fill="#1e1e1e" stroke="#3a3a3a" stroke-width="0" rx="0" />
<rect x="516.51" y="666.67" width="4.1" height="3.71" fill="none" stroke="#888" stroke-width="0.55" rx="0" />
<rect x="517.7" y="667.67" width="1.7" height="1.7" fill="#1e1e1e" stroke="#3a3a3a" stroke-width="0" rx="0" />
<polyline points="464.3,664 464.3,671.4 470,671.4" fill="none" stroke="#222" stroke-width="1.4"/>
<text x="467" y="678" font-size="3.4" font-weight="normal" fill="#444" font-family="Liberation Sans" text-anchor="start">1</text>
<text x="531.3" y="659" font-size="3" font-weight="normal" fill="#555" font-family="Liberation Sans" text-anchor="start" textLength="23" lengthAdjust="spacingAndGlyphs">PLED PWRBTN</text>
<rect x="528.1" y="660.4" width="31.299999999999955" height="12.600000000000023" fill="none" stroke="#444" stroke-width="1" rx="0" />
<rect x="528.98" y="661.28" width="4.51" height="4.54" fill="none" stroke="#888" stroke-width="0.55" rx="0" />
<rect x="530.33" y="662.65" width="1.8" height="1.8" fill="#1e1e1e" stroke="#3a3a3a" stroke-width="0" rx="0" />
<rect x="528.98" y="667.58" width="4.51" height="4.54" fill="none" stroke="#888" stroke-width="0.55" rx="0" />
<rect x="530.33" y="668.95" width="1.8" height="1.8" fill="#1e1e1e" stroke="#3a3a3a" stroke-width="0" rx="0" />
<rect x="535.24" y="661.28" width="4.51" height="4.54" fill="none" stroke="#888" stroke-width="0.55" rx="0" />
<rect x="536.59" y="662.65" width="1.8" height="1.8" fill="#1e1e1e" stroke="#3a3a3a" stroke-width="0" rx="0" />
<rect x="535.24" y="667.58" width="4.51" height="4.54" fill="none" stroke="#888" stroke-width="0.55" rx="0" />
<rect x="536.59" y="668.95" width="1.8" height="1.8" fill="#1e1e1e" stroke="#3a3a3a" stroke-width="0" rx="0" />
<rect x="541.5" y="661.28" width="4.51" height="4.54" fill="none" stroke="#888" stroke-width="0.55" rx="0" />
<rect x="542.85" y="662.65" width="1.8" height="1.8" fill="#1e1e1e" stroke="#3a3a3a" stroke-width="0" rx="0" />
<rect x="541.5" y="667.58" width="4.51" height="4.54" fill="none" stroke="#888" stroke-width="0.55" rx="0" />
<rect x="542.85" y="668.95" width="1.8" height="1.8" fill="#1e1e1e" stroke="#3a3a3a" stroke-width="0" rx="0" />
<rect x="547.76" y="661.28" width="4.51" height="4.54" fill="none" stroke="#888" stroke-width="0.55" rx="0" />
<rect x="549.11" y="662.65" width="1.8" height="1.8" fill="#1e1e1e" stroke="#3a3a3a" stroke-width="0" rx="0" />
<rect x="547.76" y="667.58" width="4.51" height="4.54" fill="none" stroke="#888" stroke-width="0.55" rx="0" />
<rect x="549.11" y="668.95" width="1.8" height="1.8" fill="#1e1e1e" stroke="#3a3a3a" stroke-width="0" rx="0" />
<rect x="554.02" y="667.58" width="4.51" height="4.54" fill="none" stroke="#888" stroke-width="0.55" rx="0" />
<rect x="555.37" y="668.95" width="1.8" height="1.8" fill="#1e1e1e" stroke="#3a3a3a" stroke-width="0" rx="0" />
<polyline points="527,667 527,671.5" fill="none" stroke="#222" stroke-width="2"/>
<text x="530.3" y="676.8" font-size="3" font-weight="normal" fill="#555" font-family="Liberation Sans" text-anchor="start" textLength="23" lengthAdjust="spacingAndGlyphs">HDLED RESET</text>
<text x="534.3" y="682.2" font-size="3.8" font-weight="bold" fill="#444" font-family="Liberation Sans" text-anchor="start" textLength="15" lengthAdjust="spacingAndGlyphs">PANEL1</text>
<line x1="146" y1="672.5" x2="146" y2="689" stroke="#9a9a9a" stroke-width="1" />
<line x1="174.3" y1="683" x2="174.3" y2="689" stroke="#9a9a9a" stroke-width="1" />
<line x1="202.7" y1="672.5" x2="202.7" y2="689" stroke="#9a9a9a" stroke-width="1" />
<line x1="224.2" y1="672.5" x2="224.2" y2="689" stroke="#9a9a9a" stroke-width="1" />
<line x1="249.2" y1="672.5" x2="249.2" y2="689" stroke="#9a9a9a" stroke-width="1" />
<line x1="269.7" y1="672.5" x2="269.7" y2="689" stroke="#9a9a9a" stroke-width="1" />
<line x1="291" y1="672.5" x2="291" y2="689" stroke="#9a9a9a" stroke-width="1" />
<line x1="314.2" y1="672.5" x2="314.2" y2="689" stroke="#9a9a9a" stroke-width="1" />
<line x1="352.3" y1="672.5" x2="352.3" y2="689" stroke="#9a9a9a" stroke-width="1" />
<line x1="388.7" y1="672.5" x2="388.7" y2="689" stroke="#9a9a9a" stroke-width="1" />
<line x1="428.7" y1="672.5" x2="428.7" y2="689" stroke="#9a9a9a" stroke-width="1" />
<line x1="452" y1="672.5" x2="452" y2="689" stroke="#9a9a9a" stroke-width="1" />
<line x1="495.8" y1="672.5" x2="495.8" y2="689" stroke="#9a9a9a" stroke-width="1" />
<line x1="539.9" y1="683" x2="539.9" y2="689" stroke="#9a9a9a" stroke-width="1" />
<text x="145.2" y="688.5" font-size="2.6" font-weight="normal" fill="#aaa" font-family="Liberation Sans" text-anchor="start">2</text>
<text x="173.5" y="688.5" font-size="2.6" font-weight="normal" fill="#aaa" font-family="Liberation Sans" text-anchor="start">2</text>
<text x="201.89999999999998" y="688.5" font-size="2.6" font-weight="normal" fill="#aaa" font-family="Liberation Sans" text-anchor="start">2</text>
<text x="223.39999999999998" y="688.5" font-size="2.6" font-weight="normal" fill="#aaa" font-family="Liberation Sans" text-anchor="start">2</text>
<text x="248.39999999999998" y="688.5" font-size="2.6" font-weight="normal" fill="#aaa" font-family="Liberation Sans" text-anchor="start">2</text>
<text x="268.9" y="688.5" font-size="2.6" font-weight="normal" fill="#aaa" font-family="Liberation Sans" text-anchor="start">2</text>
<text x="290.2" y="688.5" font-size="2.6" font-weight="normal" fill="#aaa" font-family="Liberation Sans" text-anchor="start">2</text>
<text x="313.4" y="688.5" font-size="2.6" font-weight="normal" fill="#aaa" font-family="Liberation Sans" text-anchor="start">2</text>
<text x="351.5" y="688.5" font-size="2.6" font-weight="normal" fill="#aaa" font-family="Liberation Sans" text-anchor="start">2</text>
<text x="387.9" y="688.5" font-size="2.6" font-weight="normal" fill="#aaa" font-family="Liberation Sans" text-anchor="start">2</text>
<text x="427.9" y="688.5" font-size="2.6" font-weight="normal" fill="#aaa" font-family="Liberation Sans" text-anchor="start">2</text>
<text x="451.2" y="688.5" font-size="2.6" font-weight="normal" fill="#aaa" font-family="Liberation Sans" text-anchor="start">2</text>
<text x="495.0" y="688.5" font-size="2.6" font-weight="normal" fill="#aaa" font-family="Liberation Sans" text-anchor="start">2</text>
<text x="539.1" y="688.5" font-size="2.6" font-weight="normal" fill="#aaa" font-family="Liberation Sans" text-anchor="start">2</text>
<text x="41.2" y="304.2" font-size="4.3" font-weight="bold" fill="#444" font-family="Liberation Sans" text-anchor="start" textLength="16" lengthAdjust="spacingAndGlyphs" transform="rotate(90 41.2 304.2)">Bottom:</text>
<text x="37.1" y="304.2" font-size="4.3" font-weight="bold" fill="#444" font-family="Liberation Sans" text-anchor="start" textLength="16" lengthAdjust="spacingAndGlyphs" transform="rotate(90 37.1 304.2)">Optical</text>
<text x="33.2" y="304.2" font-size="4.3" font-weight="bold" fill="#444" font-family="Liberation Sans" text-anchor="start" textLength="12.5" lengthAdjust="spacingAndGlyphs" transform="rotate(90 33.2 304.2)">SPDIF</text>
<text x="57.3" y="304.2" font-size="4.3" font-weight="bold" fill="#444" font-family="Liberation Sans" text-anchor="start" textLength="16" lengthAdjust="spacingAndGlyphs" transform="rotate(90 57.3 304.2)">Center:</text>
<text x="52.9" y="304.2" font-size="4.3" font-weight="bold" fill="#444" font-family="Liberation Sans" text-anchor="start" textLength="24" lengthAdjust="spacingAndGlyphs" transform="rotate(90 52.9 304.2)">REAR SPK</text>
<text x="73.9" y="304.2" font-size="4.3" font-weight="bold" fill="#444" font-family="Liberation Sans" text-anchor="start" textLength="6.5" lengthAdjust="spacingAndGlyphs" transform="rotate(90 73.9 304.2)">Top:</text>
<text x="69.2" y="304.2" font-size="4.3" font-weight="bold" fill="#444" font-family="Liberation Sans" text-anchor="start" textLength="25" lengthAdjust="spacingAndGlyphs" transform="rotate(90 69.2 304.2)">Center/Bass</text>
<text x="38.7" y="338.1" font-size="4.3" font-weight="bold" fill="#444" font-family="Liberation Sans" text-anchor="start" textLength="16.5" lengthAdjust="spacingAndGlyphs" transform="rotate(90 38.7 338.1)">Bottom:</text>
<text x="34.4" y="338.1" font-size="4.3" font-weight="bold" fill="#444" font-family="Liberation Sans" text-anchor="start" textLength="14.8" lengthAdjust="spacingAndGlyphs" transform="rotate(90 34.4 338.1)">MIC IN</text>
<text x="57.3" y="338.1" font-size="4.3" font-weight="bold" fill="#444" font-family="Liberation Sans" text-anchor="start" textLength="16" lengthAdjust="spacingAndGlyphs" transform="rotate(90 57.3 338.1)">Center:</text>
<text x="52.3" y="338.1" font-size="4.3" font-weight="bold" fill="#444" font-family="Liberation Sans" text-anchor="start" textLength="16" lengthAdjust="spacingAndGlyphs" transform="rotate(90 52.3 338.1)">FRONT</text>
<text x="73.9" y="338.1" font-size="4.3" font-weight="bold" fill="#444" font-family="Liberation Sans" text-anchor="start" textLength="6.5" lengthAdjust="spacingAndGlyphs" transform="rotate(90 73.9 338.1)">Top:</text>
<text x="69.0" y="338.1" font-size="4.3" font-weight="bold" fill="#444" font-family="Liberation Sans" text-anchor="start" textLength="17.5" lengthAdjust="spacingAndGlyphs" transform="rotate(90 69.0 338.1)">LINE IN</text>
</svg></body></html>
